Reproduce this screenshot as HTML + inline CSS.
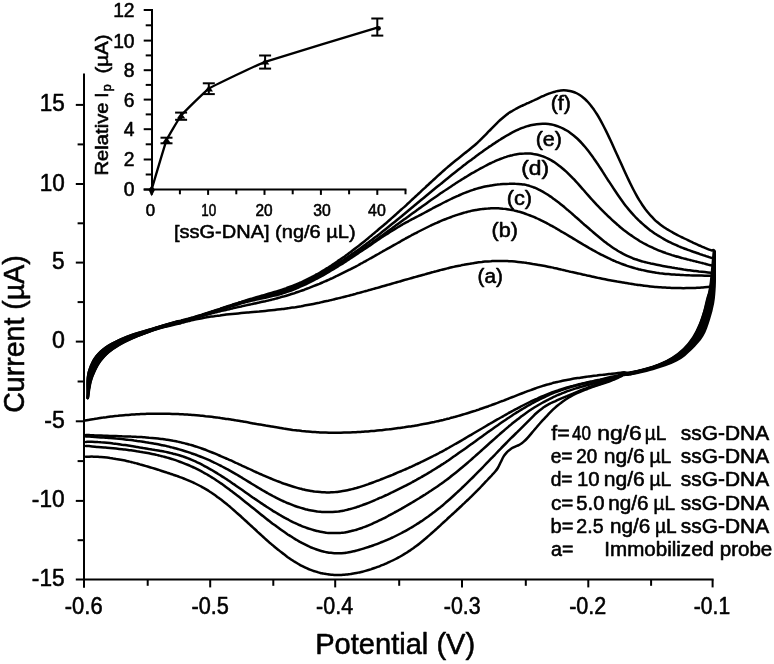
<!DOCTYPE html>
<html><head><meta charset="utf-8"><title>CV</title>
<style>html,body{margin:0;padding:0;background:#fff;}body{width:774px;height:664px;position:relative;overflow:hidden;font-family:"Liberation Sans",sans-serif;}</style>
</head><body>
<svg width="774" height="664" viewBox="0 0 774 664" style="position:absolute;left:0;top:0;will-change:transform;opacity:0.999" font-family="Liberation Sans, sans-serif" fill="#000">
<style>text{stroke:#000;stroke-width:0.55px;stroke-linejoin:round;}</style>
<rect width="774" height="664" fill="#fff"/>
<g fill="none" stroke="#000" stroke-width="2.50" stroke-linejoin="round" stroke-linecap="round">
<path d="M87.8,397.9 C87.8,394.6 87.1,383.2 87.7,377.9 C88.2,372.5 89.6,369.3 91.0,365.7 C92.5,362.1 93.9,359.3 96.4,356.2 C98.9,353.2 102.1,350.2 105.8,347.5 C109.5,344.9 114.3,342.4 118.7,340.3 C123.1,338.2 127.7,336.5 132.2,334.9 C136.7,333.3 141.3,332.2 145.8,330.8 C150.3,329.4 153.9,328.3 159.3,326.7 C164.7,325.1 174.4,322.3 178.0,321.3 C181.6,320.2 180.0,320.8 181.0,320.6 C182.0,320.3 183.0,320.1 184.0,319.8 C185.0,319.5 186.0,319.3 187.0,319.0 C188.0,318.7 189.1,318.5 190.1,318.2 C191.1,317.9 192.1,317.6 193.1,317.4 C194.1,317.1 195.1,316.8 196.1,316.5 C197.1,316.2 198.1,315.9 199.1,315.6 C200.1,315.3 201.1,315.0 202.1,314.7 C203.1,314.3 204.1,314.0 205.1,313.7 C206.1,313.4 207.1,313.1 208.1,312.8 C209.1,312.4 210.1,312.1 211.2,311.8 C212.2,311.5 213.2,311.1 214.2,310.8 C215.2,310.5 216.2,310.1 217.2,309.8 C218.2,309.5 219.2,309.2 220.2,308.8 C221.2,308.5 222.2,308.1 223.2,307.8 C224.2,307.5 225.2,307.1 226.2,306.8 C227.2,306.5 228.2,306.1 229.2,305.8 C230.2,305.5 231.2,305.1 232.3,304.8 C233.3,304.5 234.3,304.1 235.3,303.8 C236.3,303.5 237.3,303.2 238.3,302.8 C239.3,302.5 240.3,302.2 241.3,301.9 C242.3,301.5 243.3,301.2 244.3,300.9 C245.3,300.6 246.3,300.3 247.3,300.0 C248.3,299.7 249.3,299.3 250.3,299.0 C251.3,298.7 252.3,298.4 253.4,298.1 C254.4,297.8 255.4,297.6 256.4,297.3 C257.4,297.0 258.4,296.7 259.4,296.4 C260.4,296.1 261.4,295.8 262.4,295.5 C263.4,295.2 264.4,295.0 265.4,294.7 C266.4,294.4 267.4,294.1 268.4,293.8 C269.4,293.5 270.4,293.2 271.4,292.9 C272.4,292.6 273.4,292.3 274.4,292.0 C275.5,291.7 276.5,291.4 277.5,291.1 C278.5,290.8 279.5,290.4 280.5,290.1 C281.5,289.8 282.5,289.5 283.5,289.1 C284.5,288.8 285.5,288.4 286.5,288.1 C287.5,287.7 288.5,287.4 289.5,287.0 C290.5,286.6 291.5,286.3 292.5,285.9 C293.5,285.5 294.5,285.1 295.5,284.7 C296.6,284.3 297.6,283.8 298.6,283.4 C299.6,283.0 300.6,282.5 301.6,282.1 C302.6,281.6 303.6,281.2 304.6,280.7 C305.6,280.2 306.6,279.7 307.6,279.2 C308.6,278.7 309.6,278.2 310.6,277.7 C311.6,277.2 312.6,276.6 313.6,276.1 C314.6,275.5 315.6,275.0 316.6,274.4 C317.7,273.9 318.7,273.3 319.7,272.7 C320.7,272.1 321.7,271.5 322.7,270.9 C323.7,270.3 324.7,269.7 325.7,269.1 C326.7,268.5 327.7,267.8 328.7,267.2 C329.7,266.6 330.7,265.9 331.7,265.3 C332.7,264.6 333.7,263.9 334.7,263.3 C335.7,262.6 336.7,261.9 337.7,261.2 C338.7,260.5 339.8,259.8 340.8,259.1 C341.8,258.4 342.8,257.7 343.8,257.0 C344.8,256.3 345.8,255.5 346.8,254.8 C347.8,254.1 348.8,253.3 349.8,252.6 C350.8,251.8 351.8,251.1 352.8,250.3 C353.8,249.6 354.8,248.8 355.8,248.0 C356.8,247.2 357.8,246.4 358.8,245.7 C359.8,244.9 360.9,244.1 361.9,243.3 C362.9,242.5 363.9,241.7 364.9,240.9 C365.9,240.1 366.9,239.2 367.9,238.4 C368.9,237.6 369.9,236.8 370.9,235.9 C371.9,235.1 372.9,234.3 373.9,233.4 C374.9,232.6 375.9,231.8 376.9,230.9 C377.9,230.1 378.9,229.2 379.9,228.3 C380.9,227.5 382.0,226.6 383.0,225.8 C384.0,224.9 385.0,224.0 386.0,223.2 C387.0,222.3 388.0,221.4 389.0,220.5 C390.0,219.6 391.0,218.8 392.0,217.9 C393.0,217.0 394.0,216.1 395.0,215.2 C396.0,214.3 397.0,213.4 398.0,212.5 C399.0,211.6 400.0,210.7 401.0,209.8 C402.0,208.9 403.0,208.0 404.1,207.1 C405.1,206.2 406.1,205.3 407.1,204.3 C408.1,203.4 409.1,202.5 410.1,201.6 C411.1,200.7 412.1,199.7 413.1,198.8 C414.1,197.9 415.1,196.9 416.1,196.0 C417.1,195.1 418.1,194.1 419.1,193.2 C420.1,192.3 421.1,191.3 422.1,190.4 C423.1,189.5 424.1,188.5 425.2,187.6 C426.2,186.6 427.2,185.7 428.2,184.8 C429.2,183.8 430.2,182.9 431.2,182.0 C432.2,181.1 433.2,180.1 434.2,179.2 C435.2,178.3 436.2,177.4 437.2,176.4 C438.2,175.5 439.2,174.6 440.2,173.7 C441.2,172.8 442.2,171.9 443.2,171.0 C444.2,170.1 445.2,169.3 446.2,168.4 C447.3,167.5 448.3,166.6 449.3,165.8 C450.3,164.9 451.3,164.1 452.3,163.2 C453.3,162.4 454.3,161.6 455.3,160.8 C456.3,160.0 457.3,159.2 458.3,158.4 C459.3,157.6 460.3,156.8 461.3,156.0 C462.3,155.2 463.3,154.4 464.3,153.6 C465.3,152.9 466.3,152.1 467.3,151.3 C468.4,150.5 469.4,149.7 470.4,148.8 C471.4,148.0 472.4,147.2 473.4,146.3 C474.4,145.5 475.4,144.6 476.4,143.7 C477.4,142.8 478.4,141.8 479.4,140.9 C480.4,139.9 481.4,138.9 482.4,137.9 C483.4,136.9 484.4,135.9 485.4,134.9 C486.4,133.8 487.4,132.8 488.4,131.7 C489.5,130.7 490.5,129.7 491.5,128.6 C492.5,127.6 493.5,126.6 494.5,125.6 C495.5,124.6 496.5,123.6 497.5,122.6 C498.5,121.7 499.5,120.7 500.5,119.8 C501.5,118.9 502.5,118.1 503.5,117.2 C504.5,116.4 505.5,115.6 506.5,114.8 C507.5,114.0 508.5,113.3 509.5,112.6 C510.5,112.0 511.6,111.3 512.6,110.7 C513.6,110.1 514.6,109.5 515.6,109.0 C516.6,108.4 517.6,107.9 518.6,107.4 C519.6,106.9 520.6,106.4 521.6,105.9 C522.6,105.5 523.6,105.0 524.6,104.6 C525.6,104.1 526.6,103.7 527.6,103.2 C528.6,102.8 529.6,102.3 530.6,101.9 C531.6,101.4 532.7,101.0 533.7,100.5 C534.7,100.0 535.7,99.5 536.7,99.1 C537.7,98.6 538.7,98.1 539.7,97.6 C540.7,97.2 541.7,96.7 542.7,96.2 C543.7,95.8 544.7,95.3 545.7,94.9 C546.7,94.5 547.7,94.1 548.7,93.7 C549.7,93.3 550.7,92.9 551.7,92.6 C552.7,92.3 553.8,91.9 554.8,91.7 C555.8,91.4 556.8,91.2 557.8,91.0 C558.8,90.8 559.8,90.6 560.8,90.5 C561.8,90.4 562.8,90.3 563.8,90.3 C564.8,90.3 565.8,90.3 566.8,90.4 C567.8,90.5 568.8,90.7 569.8,90.9 C570.8,91.1 571.8,91.4 572.8,91.7 C573.8,92.0 574.8,92.4 575.9,92.9 C576.9,93.3 577.9,93.9 578.9,94.5 C579.9,95.1 580.9,95.8 581.9,96.5 C582.9,97.3 583.9,98.1 584.9,99.0 C585.9,99.9 586.9,100.9 587.9,102.0 C588.9,103.1 589.9,104.3 590.9,105.6 C591.9,106.8 592.9,108.2 593.9,109.6 C594.9,111.1 595.9,112.6 597.0,114.3 C598.0,115.9 599.0,117.6 600.0,119.4 C601.0,121.2 602.0,123.1 603.0,125.0 C604.0,126.9 605.0,128.9 606.0,130.9 C607.0,132.9 608.0,135.0 609.0,137.1 C610.0,139.3 611.0,141.4 612.0,143.6 C613.0,145.8 614.0,148.0 615.0,150.2 C616.0,152.4 617.0,154.6 618.1,156.9 C619.1,159.1 620.1,161.3 621.1,163.6 C622.1,165.8 623.1,168.0 624.1,170.2 C625.1,172.4 626.1,174.5 627.1,176.7 C628.1,178.8 629.1,180.9 630.1,183.0 C631.1,185.0 632.1,187.0 633.1,189.0 C634.1,190.9 635.1,192.8 636.1,194.6 C637.1,196.5 638.1,198.2 639.1,199.9 C640.2,201.6 641.2,203.2 642.2,204.7 C643.2,206.2 644.2,207.6 645.2,209.0 C646.2,210.3 647.2,211.6 648.2,212.8 C649.2,214.0 650.2,215.2 651.2,216.2 C652.2,217.3 653.2,218.3 654.2,219.3 C655.2,220.3 656.2,221.2 657.2,222.0 C658.2,222.9 659.2,223.7 660.2,224.5 C661.3,225.3 662.3,226.0 663.3,226.7 C664.3,227.4 665.3,228.0 666.3,228.7 C667.3,229.3 668.3,229.9 669.3,230.5 C670.3,231.1 671.3,231.7 672.3,232.2 C673.3,232.8 674.3,233.3 675.3,233.9 C676.3,234.4 677.3,234.9 678.3,235.5 C679.3,236.0 680.3,236.5 681.3,237.0 C682.4,237.5 683.4,238.0 684.4,238.5 C685.4,239.0 686.4,239.5 687.4,239.9 C688.4,240.4 689.4,240.9 690.4,241.4 C691.4,241.8 692.4,242.3 693.4,242.8 C694.4,243.2 695.4,243.7 696.4,244.2 C697.4,244.6 698.4,245.1 699.4,245.5 C700.4,245.9 701.4,246.4 702.4,246.8 C703.4,247.2 704.5,247.7 705.5,248.1 C706.5,248.5 707.5,248.9 708.5,249.3 C709.5,249.7 710.5,250.0 711.5,250.4 C712.5,250.8 714.1,248.8 714.5,251.5 C714.9,254.2 714.1,261.6 714.0,266.7 C713.9,271.8 714.2,277.0 714.1,282.2 C713.9,287.3 713.7,292.5 713.0,297.7 C712.3,302.8 711.3,307.9 709.9,312.8 C708.6,317.8 707.1,322.9 705.0,327.5 C702.9,332.2 700.4,336.7 697.3,340.7 C694.2,344.8 690.4,348.4 686.5,351.7 C682.6,355.0 678.6,358.3 674.1,360.7 C669.6,363.1 664.4,364.3 659.5,365.9 C654.6,367.5 649.8,368.9 644.9,370.3 C640.0,371.7 633.5,373.4 630.0,374.2 C626.5,375.0 625.5,374.6 624.0,374.9 C622.5,375.3 622.0,376.0 621.0,376.4 C620.0,376.9 619.0,377.4 618.0,377.8 C617.0,378.3 616.0,378.7 615.0,379.1 C614.0,379.6 613.0,379.9 612.0,380.3 C611.0,380.7 610.0,381.1 609.0,381.5 C608.0,381.8 607.0,382.2 606.0,382.5 C605.0,382.9 604.0,383.2 603.0,383.6 C602.0,383.9 601.0,384.2 600.0,384.6 C599.0,384.9 598.0,385.2 596.9,385.6 C595.9,385.9 594.9,386.2 593.9,386.6 C592.9,386.9 591.9,387.2 590.9,387.6 C589.9,387.9 588.9,388.3 587.9,388.7 C586.9,389.0 585.9,389.4 584.9,389.8 C583.9,390.2 582.9,390.6 581.9,391.0 C580.9,391.4 579.9,391.8 578.9,392.3 C577.9,392.7 576.9,393.2 575.9,393.7 C574.9,394.2 573.9,394.7 572.9,395.2 C571.9,395.7 570.9,396.3 569.9,396.9 C568.9,397.4 567.9,398.0 566.9,398.7 C565.9,399.3 564.9,400.0 563.9,400.7 C562.9,401.4 561.9,402.1 560.9,402.9 C559.9,403.6 558.9,404.4 557.9,405.3 C556.9,406.1 555.9,407.0 554.9,407.9 C553.9,408.8 552.9,409.7 551.9,410.7 C550.9,411.7 549.9,412.7 548.9,413.7 C547.9,414.8 546.9,415.8 545.9,416.9 C544.9,418.0 543.9,419.1 542.8,420.2 C541.8,421.3 540.8,422.4 539.8,423.5 C538.8,424.7 537.8,425.8 536.8,427.0 C535.8,428.1 534.8,429.3 533.8,430.5 C532.8,431.6 531.8,432.9 530.8,434.1 C529.8,435.3 528.8,436.5 527.8,437.6 C526.8,438.7 525.8,439.8 524.8,440.7 C523.8,441.7 522.8,442.6 521.8,443.3 C520.8,444.0 519.8,444.6 518.8,445.1 C517.8,445.6 516.8,445.9 515.8,446.3 C514.8,446.8 513.8,447.1 512.8,447.7 C511.8,448.2 510.8,448.9 509.8,449.7 C508.8,450.4 507.8,451.3 506.8,452.4 C505.8,453.5 504.8,454.6 503.8,456.2 C502.8,457.8 501.8,460.0 500.8,462.0 C499.8,463.9 498.8,466.4 497.8,468.0 C496.8,469.7 495.8,470.8 494.8,472.0 C493.8,473.2 492.8,474.2 491.8,475.3 C490.8,476.3 489.8,477.4 488.7,478.5 C487.7,479.6 486.7,480.7 485.7,481.7 C484.7,482.8 483.7,483.9 482.7,484.9 C481.7,486.0 480.7,487.0 479.7,488.1 C478.7,489.1 477.7,490.1 476.7,491.1 C475.7,492.2 474.7,493.2 473.7,494.1 C472.7,495.1 471.7,496.1 470.7,497.1 C469.7,498.1 468.7,499.0 467.7,500.0 C466.7,501.0 465.7,501.9 464.7,502.9 C463.7,503.8 462.7,504.7 461.7,505.7 C460.7,506.6 459.7,507.5 458.7,508.5 C457.7,509.4 456.7,510.3 455.7,511.3 C454.7,512.2 453.7,513.1 452.7,514.0 C451.7,514.9 450.7,515.9 449.7,516.8 C448.7,517.7 447.7,518.6 446.7,519.6 C445.7,520.5 444.7,521.4 443.7,522.3 C442.7,523.2 441.7,524.2 440.7,525.1 C439.7,526.0 438.7,526.9 437.7,527.8 C436.7,528.8 435.6,529.7 434.6,530.6 C433.6,531.5 432.6,532.4 431.6,533.3 C430.6,534.2 429.6,535.0 428.6,535.9 C427.6,536.8 426.6,537.6 425.6,538.5 C424.6,539.3 423.6,540.2 422.6,541.0 C421.6,541.8 420.6,542.6 419.6,543.4 C418.6,544.2 417.6,545.0 416.6,545.7 C415.6,546.5 414.6,547.2 413.6,548.0 C412.6,548.7 411.6,549.4 410.6,550.1 C409.6,550.7 408.6,551.4 407.6,552.1 C406.6,552.7 405.6,553.3 404.6,553.9 C403.6,554.5 402.6,555.1 401.6,555.7 C400.6,556.3 399.6,556.9 398.6,557.4 C397.6,558.0 396.6,558.5 395.6,559.0 C394.6,559.5 393.6,560.0 392.6,560.5 C391.6,561.0 390.6,561.5 389.6,561.9 C388.6,562.4 387.6,562.9 386.6,563.3 C385.6,563.7 384.6,564.2 383.6,564.6 C382.6,565.0 381.5,565.4 380.5,565.8 C379.5,566.2 378.5,566.6 377.5,566.9 C376.5,567.3 375.5,567.7 374.5,568.0 C373.5,568.4 372.5,568.7 371.5,569.1 C370.5,569.4 369.5,569.7 368.5,570.0 C367.5,570.3 366.5,570.6 365.5,570.9 C364.5,571.2 363.5,571.5 362.5,571.7 C361.5,572.0 360.5,572.2 359.5,572.4 C358.5,572.7 357.5,572.9 356.5,573.1 C355.5,573.3 354.5,573.5 353.5,573.6 C352.5,573.8 351.5,573.9 350.5,574.1 C349.5,574.2 348.5,574.3 347.5,574.5 C346.5,574.6 345.5,574.6 344.5,574.7 C343.5,574.8 342.5,574.8 341.5,574.9 C340.5,574.9 339.5,574.9 338.5,574.9 C337.5,574.9 336.5,574.9 335.5,574.9 C334.5,574.9 333.5,574.8 332.5,574.7 C331.5,574.7 330.5,574.6 329.5,574.5 C328.5,574.4 327.4,574.2 326.4,574.1 C325.4,573.9 324.4,573.7 323.4,573.6 C322.4,573.4 321.4,573.1 320.4,572.9 C319.4,572.7 318.4,572.4 317.4,572.1 C316.4,571.9 315.4,571.6 314.4,571.2 C313.4,570.9 312.4,570.6 311.4,570.2 C310.4,569.8 309.4,569.4 308.4,569.0 C307.4,568.6 306.4,568.2 305.4,567.7 C304.4,567.2 303.4,566.7 302.4,566.2 C301.4,565.7 300.4,565.2 299.4,564.6 C298.4,564.0 297.4,563.5 296.4,562.8 C295.4,562.2 294.4,561.6 293.4,561.0 C292.4,560.3 291.4,559.7 290.4,559.0 C289.4,558.3 288.4,557.6 287.4,556.9 C286.4,556.1 285.4,555.4 284.4,554.6 C283.4,553.9 282.4,553.1 281.4,552.3 C280.4,551.6 279.4,550.8 278.4,549.9 C277.4,549.1 276.4,548.3 275.4,547.5 C274.4,546.6 273.3,545.8 272.3,544.9 C271.3,544.1 270.3,543.2 269.3,542.4 C268.3,541.5 267.3,540.6 266.3,539.7 C265.3,538.8 264.3,537.9 263.3,537.0 C262.3,536.1 261.3,535.2 260.3,534.3 C259.3,533.4 258.3,532.5 257.3,531.6 C256.3,530.6 255.3,529.7 254.3,528.8 C253.3,527.9 252.3,526.9 251.3,526.0 C250.3,525.1 249.3,524.2 248.3,523.3 C247.3,522.3 246.3,521.4 245.3,520.5 C244.3,519.6 243.3,518.7 242.3,517.8 C241.3,516.8 240.3,515.9 239.3,515.0 C238.3,514.1 237.3,513.2 236.3,512.4 C235.3,511.5 234.3,510.6 233.3,509.7 C232.3,508.9 231.3,508.0 230.3,507.1 C229.3,506.3 228.3,505.5 227.3,504.6 C226.3,503.8 225.3,503.0 224.3,502.2 C223.3,501.4 222.3,500.6 221.3,499.8 C220.2,499.0 219.2,498.3 218.2,497.5 C217.2,496.8 216.2,496.0 215.2,495.3 C214.2,494.6 213.2,493.9 212.2,493.2 C211.2,492.6 210.2,491.9 209.2,491.3 C208.2,490.6 207.2,490.0 206.2,489.4 C205.2,488.8 204.2,488.2 203.2,487.7 C202.2,487.1 201.2,486.6 200.2,486.0 C199.2,485.5 198.2,485.0 197.2,484.5 C196.2,484.0 195.2,483.5 194.2,483.0 C193.2,482.6 192.2,482.1 191.2,481.6 C190.2,481.2 189.2,480.8 188.2,480.3 C187.2,479.9 186.2,479.5 185.2,479.1 C184.2,478.7 183.2,478.3 182.2,477.9 C181.2,477.5 180.2,477.2 179.2,476.8 C178.2,476.4 177.2,476.1 176.2,475.7 C175.2,475.4 174.2,475.0 173.2,474.7 C172.2,474.3 171.2,474.0 170.2,473.7 C169.2,473.3 168.2,473.0 167.2,472.7 C166.1,472.3 165.1,472.0 164.1,471.7 C163.1,471.4 162.1,471.0 161.1,470.7 C160.1,470.4 159.1,470.1 158.1,469.7 C157.1,469.4 156.1,469.1 155.1,468.8 C154.1,468.5 153.1,468.2 152.1,467.9 C151.1,467.6 150.1,467.3 149.1,467.0 C148.1,466.7 147.1,466.4 146.1,466.1 C145.1,465.8 144.1,465.5 143.1,465.2 C142.1,464.9 141.1,464.6 140.1,464.4 C139.1,464.1 138.1,463.8 137.1,463.5 C136.1,463.3 135.1,463.0 134.1,462.8 C133.1,462.5 132.1,462.3 131.1,462.0 C130.1,461.8 129.1,461.5 128.1,461.3 C127.1,461.1 126.1,460.8 125.1,460.6 C124.1,460.4 123.1,460.2 122.1,460.0 C121.1,459.8 120.1,459.6 119.1,459.4 C118.1,459.2 117.1,459.0 116.1,458.9 C115.1,458.7 114.1,458.5 113.1,458.4 C112.0,458.2 111.0,458.1 110.0,458.0 C109.0,457.8 108.0,457.7 107.0,457.6 C106.0,457.5 105.0,457.4 104.0,457.3 C103.0,457.2 102.0,457.1 101.0,457.0 C100.0,456.9 99.0,456.9 98.0,456.8 C97.0,456.8 96.0,456.7 95.0,456.7 C94.0,456.7 93.0,456.6 92.0,456.6 C91.0,456.6 90.0,456.6 89.0,456.7 C88.0,456.7 86.5,456.7 86.0,456.8"/>
<path d="M87.8,397.9 C87.9,394.7 87.6,383.8 88.3,378.6 C88.9,373.4 90.3,370.2 91.8,366.7 C93.2,363.1 94.7,360.2 97.2,357.2 C99.6,354.1 102.7,351.1 106.3,348.4 C109.9,345.8 114.4,343.4 118.7,341.3 C123.0,339.1 127.7,337.3 132.2,335.6 C136.7,333.9 141.3,332.7 145.8,331.2 C150.3,329.8 153.9,328.6 159.3,327.0 C164.7,325.4 174.4,322.6 178.0,321.6 C181.6,320.6 180.0,321.1 181.0,320.9 C182.0,320.6 183.0,320.4 184.0,320.1 C185.0,319.8 186.0,319.6 187.0,319.3 C188.0,319.0 189.0,318.8 190.1,318.5 C191.1,318.2 192.1,317.9 193.1,317.6 C194.1,317.3 195.1,317.0 196.1,316.7 C197.1,316.4 198.1,316.1 199.1,315.8 C200.1,315.5 201.1,315.2 202.1,314.9 C203.1,314.6 204.1,314.3 205.1,314.0 C206.1,313.7 207.1,313.3 208.1,313.0 C209.1,312.7 210.1,312.4 211.1,312.0 C212.1,311.7 213.2,311.4 214.2,311.1 C215.2,310.7 216.2,310.4 217.2,310.1 C218.2,309.8 219.2,309.4 220.2,309.1 C221.2,308.8 222.2,308.4 223.2,308.1 C224.2,307.8 225.2,307.4 226.2,307.1 C227.2,306.8 228.2,306.5 229.2,306.1 C230.2,305.8 231.2,305.5 232.2,305.2 C233.2,304.8 234.2,304.5 235.2,304.2 C236.2,303.9 237.3,303.6 238.3,303.3 C239.3,303.0 240.3,302.6 241.3,302.3 C242.3,302.0 243.3,301.7 244.3,301.4 C245.3,301.1 246.3,300.8 247.3,300.5 C248.3,300.2 249.3,300.0 250.3,299.7 C251.3,299.4 252.3,299.1 253.3,298.8 C254.3,298.6 255.3,298.3 256.3,298.0 C257.3,297.8 258.3,297.5 259.3,297.2 C260.4,297.0 261.4,296.7 262.4,296.4 C263.4,296.2 264.4,295.9 265.4,295.6 C266.4,295.3 267.4,295.1 268.4,294.8 C269.4,294.5 270.4,294.2 271.4,294.0 C272.4,293.7 273.4,293.4 274.4,293.1 C275.4,292.8 276.4,292.5 277.4,292.2 C278.4,291.9 279.4,291.6 280.4,291.2 C281.4,290.9 282.4,290.6 283.5,290.2 C284.5,289.9 285.5,289.5 286.5,289.2 C287.5,288.8 288.5,288.4 289.5,288.0 C290.5,287.7 291.5,287.3 292.5,286.9 C293.5,286.5 294.5,286.1 295.5,285.6 C296.5,285.2 297.5,284.8 298.5,284.4 C299.5,283.9 300.5,283.5 301.5,283.0 C302.5,282.6 303.5,282.1 304.5,281.7 C305.5,281.2 306.6,280.7 307.6,280.2 C308.6,279.8 309.6,279.3 310.6,278.8 C311.6,278.3 312.6,277.8 313.6,277.3 C314.6,276.7 315.6,276.2 316.6,275.7 C317.6,275.2 318.6,274.6 319.6,274.1 C320.6,273.5 321.6,273.0 322.6,272.4 C323.6,271.9 324.6,271.3 325.6,270.7 C326.6,270.1 327.6,269.6 328.6,269.0 C329.7,268.4 330.7,267.8 331.7,267.2 C332.7,266.6 333.7,266.0 334.7,265.4 C335.7,264.8 336.7,264.1 337.7,263.5 C338.7,262.9 339.7,262.2 340.7,261.6 C341.7,261.0 342.7,260.3 343.7,259.7 C344.7,259.0 345.7,258.3 346.7,257.7 C347.7,257.0 348.7,256.3 349.7,255.7 C350.7,255.0 351.7,254.3 352.7,253.6 C353.8,252.9 354.8,252.2 355.8,251.5 C356.8,250.8 357.8,250.1 358.8,249.4 C359.8,248.7 360.8,248.0 361.8,247.2 C362.8,246.5 363.8,245.8 364.8,245.1 C365.8,244.3 366.8,243.6 367.8,242.8 C368.8,242.1 369.8,241.3 370.8,240.6 C371.8,239.8 372.8,239.1 373.8,238.3 C374.8,237.5 375.8,236.8 376.9,236.0 C377.9,235.2 378.9,234.4 379.9,233.7 C380.9,232.9 381.9,232.1 382.9,231.3 C383.9,230.5 384.9,229.7 385.9,228.9 C386.9,228.1 387.9,227.3 388.9,226.5 C389.9,225.7 390.9,224.9 391.9,224.1 C392.9,223.3 393.9,222.5 394.9,221.7 C395.9,220.9 396.9,220.1 397.9,219.2 C398.9,218.4 400.0,217.6 401.0,216.8 C402.0,216.0 403.0,215.1 404.0,214.3 C405.0,213.5 406.0,212.6 407.0,211.8 C408.0,211.0 409.0,210.2 410.0,209.3 C411.0,208.5 412.0,207.7 413.0,206.8 C414.0,206.0 415.0,205.2 416.0,204.3 C417.0,203.5 418.0,202.7 419.0,201.8 C420.0,201.0 421.0,200.2 422.0,199.3 C423.1,198.5 424.1,197.7 425.1,196.8 C426.1,196.0 427.1,195.2 428.1,194.3 C429.1,193.5 430.1,192.7 431.1,191.8 C432.1,191.0 433.1,190.2 434.1,189.3 C435.1,188.5 436.1,187.7 437.1,186.8 C438.1,186.0 439.1,185.2 440.1,184.4 C441.1,183.5 442.1,182.7 443.1,181.9 C444.1,181.1 445.1,180.3 446.1,179.5 C447.2,178.6 448.2,177.8 449.2,177.0 C450.2,176.2 451.2,175.4 452.2,174.6 C453.2,173.8 454.2,173.0 455.2,172.2 C456.2,171.4 457.2,170.6 458.2,169.8 C459.2,169.0 460.2,168.2 461.2,167.5 C462.2,166.7 463.2,165.9 464.2,165.1 C465.2,164.3 466.2,163.6 467.2,162.8 C468.2,162.0 469.2,161.3 470.3,160.5 C471.3,159.8 472.3,159.0 473.3,158.3 C474.3,157.5 475.3,156.8 476.3,156.0 C477.3,155.3 478.3,154.6 479.3,153.8 C480.3,153.1 481.3,152.4 482.3,151.7 C483.3,150.9 484.3,150.2 485.3,149.5 C486.3,148.8 487.3,148.1 488.3,147.4 C489.3,146.7 490.3,146.1 491.3,145.4 C492.3,144.7 493.4,144.0 494.4,143.4 C495.4,142.7 496.4,142.0 497.4,141.4 C498.4,140.7 499.4,140.1 500.4,139.5 C501.4,138.8 502.4,138.2 503.4,137.6 C504.4,137.0 505.4,136.4 506.4,135.8 C507.4,135.2 508.4,134.6 509.4,134.1 C510.4,133.5 511.4,132.9 512.4,132.4 C513.4,131.9 514.4,131.4 515.4,130.9 C516.5,130.4 517.5,129.9 518.5,129.5 C519.5,129.0 520.5,128.6 521.5,128.2 C522.5,127.8 523.5,127.4 524.5,127.1 C525.5,126.7 526.5,126.4 527.5,126.1 C528.5,125.8 529.5,125.6 530.5,125.3 C531.5,125.1 532.5,124.9 533.5,124.7 C534.5,124.5 535.5,124.3 536.5,124.2 C537.5,124.1 538.5,124.0 539.6,123.9 C540.6,123.8 541.6,123.8 542.6,123.8 C543.6,123.8 544.6,123.8 545.6,123.8 C546.6,123.9 547.6,124.0 548.6,124.1 C549.6,124.2 550.6,124.4 551.6,124.6 C552.6,124.8 553.6,125.0 554.6,125.3 C555.6,125.6 556.6,125.9 557.6,126.2 C558.6,126.6 559.6,126.9 560.6,127.4 C561.6,127.8 562.6,128.3 563.7,128.8 C564.7,129.3 565.7,129.9 566.7,130.5 C567.7,131.1 568.7,131.7 569.7,132.4 C570.7,133.1 571.7,133.9 572.7,134.7 C573.7,135.4 574.7,136.3 575.7,137.2 C576.7,138.1 577.7,139.0 578.7,140.0 C579.7,141.0 580.7,142.0 581.7,143.1 C582.7,144.2 583.7,145.3 584.7,146.5 C585.7,147.7 586.8,148.9 587.8,150.2 C588.8,151.5 589.8,152.8 590.8,154.2 C591.8,155.5 592.8,156.9 593.8,158.4 C594.8,159.8 595.8,161.3 596.8,162.8 C597.8,164.2 598.8,165.7 599.8,167.3 C600.8,168.8 601.8,170.3 602.8,171.9 C603.8,173.4 604.8,175.0 605.8,176.6 C606.8,178.1 607.8,179.7 608.8,181.3 C609.9,182.8 610.9,184.4 611.9,185.9 C612.9,187.5 613.9,189.0 614.9,190.5 C615.9,192.0 616.9,193.5 617.9,195.0 C618.9,196.5 619.9,197.9 620.9,199.3 C621.9,200.7 622.9,202.1 623.9,203.4 C624.9,204.8 625.9,206.1 626.9,207.3 C627.9,208.6 628.9,209.8 629.9,210.9 C630.9,212.1 631.9,213.3 633.0,214.4 C634.0,215.5 635.0,216.5 636.0,217.6 C637.0,218.6 638.0,219.6 639.0,220.6 C640.0,221.5 641.0,222.5 642.0,223.4 C643.0,224.3 644.0,225.2 645.0,226.0 C646.0,226.9 647.0,227.7 648.0,228.5 C649.0,229.3 650.0,230.0 651.0,230.8 C652.0,231.5 653.0,232.2 654.0,232.9 C655.0,233.6 656.1,234.3 657.1,235.0 C658.1,235.6 659.1,236.2 660.1,236.8 C661.1,237.5 662.1,238.0 663.1,238.6 C664.1,239.2 665.1,239.8 666.1,240.3 C667.1,240.8 668.1,241.4 669.1,241.9 C670.1,242.4 671.1,242.9 672.1,243.3 C673.1,243.8 674.1,244.3 675.1,244.7 C676.1,245.2 677.1,245.6 678.1,246.0 C679.1,246.5 680.2,246.9 681.2,247.3 C682.2,247.7 683.2,248.1 684.2,248.5 C685.2,248.9 686.2,249.2 687.2,249.6 C688.2,250.0 689.2,250.3 690.2,250.7 C691.2,251.1 692.2,251.4 693.2,251.8 C694.2,252.1 695.2,252.5 696.2,252.8 C697.2,253.1 698.2,253.5 699.2,253.8 C700.2,254.2 701.2,254.5 702.2,254.8 C703.3,255.2 704.3,255.5 705.3,255.8 C706.3,256.2 707.3,256.5 708.3,256.8 C709.3,257.2 710.3,257.5 711.3,257.9 C712.3,258.2 713.9,257.5 714.3,258.9 C714.7,260.4 713.8,262.8 713.7,266.6 C713.5,270.4 713.7,276.8 713.5,282.0 C713.2,287.1 712.8,292.2 712.0,297.3 C711.3,302.3 710.2,307.4 708.9,312.3 C707.5,317.2 706.1,322.2 704.0,326.9 C701.9,331.5 699.5,336.0 696.5,340.1 C693.5,344.1 689.8,347.8 686.0,351.1 C682.2,354.5 678.1,357.7 673.7,360.2 C669.3,362.6 664.2,364.0 659.4,365.6 C654.6,367.3 649.7,368.7 644.8,370.1 C639.9,371.5 633.5,373.1 630.0,373.9 C626.5,374.6 625.5,374.3 624.0,374.6 C622.5,374.9 622.0,375.3 621.0,375.6 C620.0,375.9 619.0,376.3 618.0,376.6 C617.0,377.0 616.0,377.3 615.0,377.7 C614.0,378.0 613.0,378.4 612.0,378.7 C611.0,379.1 610.0,379.4 609.0,379.8 C608.0,380.2 607.0,380.5 606.0,380.9 C605.0,381.2 604.0,381.6 603.0,382.0 C602.0,382.3 601.0,382.7 600.0,383.1 C599.0,383.4 598.0,383.8 596.9,384.2 C595.9,384.5 594.9,384.9 593.9,385.3 C592.9,385.7 591.9,386.1 590.9,386.4 C589.9,386.8 588.9,387.2 587.9,387.6 C586.9,388.0 585.9,388.4 584.9,388.8 C583.9,389.1 582.9,389.5 581.9,389.9 C580.9,390.3 579.9,390.7 578.9,391.1 C577.9,391.5 576.9,391.9 575.9,392.3 C574.9,392.7 573.9,393.1 572.9,393.6 C571.9,394.0 570.9,394.4 569.9,394.8 C568.9,395.2 567.9,395.6 566.9,396.1 C565.9,396.5 564.9,396.9 563.9,397.3 C562.9,397.8 561.9,398.2 560.9,398.6 C559.9,399.1 558.9,399.5 557.9,399.9 C556.9,400.4 555.9,400.8 554.9,401.3 C553.9,401.7 552.9,402.2 551.9,402.7 C550.9,403.1 549.9,403.7 548.9,404.2 C547.9,404.7 546.9,405.3 545.9,405.9 C544.9,406.5 543.9,407.2 542.8,407.9 C541.8,408.6 540.8,409.4 539.8,410.2 C538.8,411.0 537.8,411.9 536.8,412.8 C535.8,413.7 534.8,414.6 533.8,415.6 C532.8,416.6 531.8,417.6 530.8,418.6 C529.8,419.6 528.8,420.6 527.8,421.6 C526.8,422.6 525.8,423.6 524.8,424.6 C523.8,425.6 522.8,426.6 521.8,427.6 C520.8,428.6 519.8,429.6 518.8,430.6 C517.8,431.6 516.8,432.5 515.8,433.5 C514.8,434.5 513.8,435.5 512.8,436.5 C511.8,437.5 510.8,438.4 509.8,439.4 C508.8,440.4 507.8,441.4 506.8,442.5 C505.8,443.5 504.8,444.5 503.8,445.5 C502.8,446.5 501.8,447.5 500.8,448.6 C499.8,449.6 498.8,450.6 497.8,451.7 C496.8,452.7 495.8,453.8 494.8,454.8 C493.8,455.8 492.8,456.9 491.8,457.9 C490.8,459.0 489.8,460.0 488.7,461.1 C487.7,462.1 486.7,463.1 485.7,464.2 C484.7,465.2 483.7,466.3 482.7,467.3 C481.7,468.3 480.7,469.4 479.7,470.4 C478.7,471.4 477.7,472.4 476.7,473.4 C475.7,474.4 474.7,475.5 473.7,476.5 C472.7,477.5 471.7,478.5 470.7,479.4 C469.7,480.4 468.7,481.4 467.7,482.4 C466.7,483.4 465.7,484.4 464.7,485.3 C463.7,486.3 462.7,487.2 461.7,488.2 C460.7,489.1 459.7,490.1 458.7,491.0 C457.7,491.9 456.7,492.9 455.7,493.8 C454.7,494.7 453.7,495.6 452.7,496.5 C451.7,497.4 450.7,498.3 449.7,499.2 C448.7,500.1 447.7,500.9 446.7,501.8 C445.7,502.7 444.7,503.5 443.7,504.4 C442.7,505.2 441.7,506.0 440.7,506.9 C439.7,507.7 438.7,508.5 437.7,509.3 C436.7,510.1 435.6,510.9 434.6,511.7 C433.6,512.4 432.6,513.2 431.6,513.9 C430.6,514.7 429.6,515.4 428.6,516.2 C427.6,516.9 426.6,517.6 425.6,518.3 C424.6,519.0 423.6,519.7 422.6,520.4 C421.6,521.1 420.6,521.7 419.6,522.4 C418.6,523.0 417.6,523.7 416.6,524.3 C415.6,524.9 414.6,525.6 413.6,526.2 C412.6,526.8 411.6,527.4 410.6,528.0 C409.6,528.6 408.6,529.1 407.6,529.7 C406.6,530.3 405.6,530.8 404.6,531.4 C403.6,531.9 402.6,532.5 401.6,533.0 C400.6,533.5 399.6,534.0 398.6,534.5 C397.6,535.0 396.6,535.5 395.6,536.0 C394.6,536.5 393.6,537.0 392.6,537.5 C391.6,537.9 390.6,538.4 389.6,538.8 C388.6,539.3 387.6,539.7 386.6,540.1 C385.6,540.6 384.6,541.0 383.6,541.4 C382.6,541.8 381.5,542.2 380.5,542.6 C379.5,543.0 378.5,543.4 377.5,543.8 C376.5,544.2 375.5,544.5 374.5,544.9 C373.5,545.3 372.5,545.6 371.5,546.0 C370.5,546.3 369.5,546.6 368.5,547.0 C367.5,547.3 366.5,547.6 365.5,547.9 C364.5,548.3 363.5,548.6 362.5,548.9 C361.5,549.2 360.5,549.5 359.5,549.7 C358.5,550.0 357.5,550.3 356.5,550.6 C355.5,550.8 354.5,551.1 353.5,551.3 C352.5,551.5 351.5,551.7 350.5,551.9 C349.5,552.1 348.5,552.3 347.5,552.5 C346.5,552.6 345.5,552.8 344.5,552.9 C343.5,553.0 342.5,553.1 341.5,553.2 C340.5,553.2 339.5,553.3 338.5,553.3 C337.5,553.3 336.5,553.3 335.5,553.2 C334.5,553.2 333.5,553.1 332.5,553.0 C331.5,552.9 330.5,552.8 329.5,552.7 C328.5,552.5 327.4,552.4 326.4,552.2 C325.4,552.0 324.4,551.7 323.4,551.5 C322.4,551.3 321.4,551.0 320.4,550.7 C319.4,550.4 318.4,550.1 317.4,549.8 C316.4,549.4 315.4,549.1 314.4,548.7 C313.4,548.3 312.4,547.9 311.4,547.5 C310.4,547.1 309.4,546.6 308.4,546.2 C307.4,545.7 306.4,545.2 305.4,544.7 C304.4,544.2 303.4,543.7 302.4,543.2 C301.4,542.7 300.4,542.1 299.4,541.6 C298.4,541.0 297.4,540.4 296.4,539.8 C295.4,539.3 294.4,538.6 293.4,538.0 C292.4,537.4 291.4,536.8 290.4,536.1 C289.4,535.5 288.4,534.8 287.4,534.2 C286.4,533.5 285.4,532.8 284.4,532.1 C283.4,531.4 282.4,530.7 281.4,530.0 C280.4,529.3 279.4,528.6 278.4,527.8 C277.4,527.1 276.4,526.4 275.4,525.6 C274.4,524.9 273.3,524.1 272.3,523.4 C271.3,522.6 270.3,521.8 269.3,521.0 C268.3,520.3 267.3,519.5 266.3,518.7 C265.3,517.9 264.3,517.1 263.3,516.3 C262.3,515.6 261.3,514.8 260.3,514.0 C259.3,513.2 258.3,512.4 257.3,511.5 C256.3,510.7 255.3,509.9 254.3,509.1 C253.3,508.3 252.3,507.5 251.3,506.7 C250.3,505.9 249.3,505.1 248.3,504.3 C247.3,503.5 246.3,502.7 245.3,501.9 C244.3,501.1 243.3,500.3 242.3,499.5 C241.3,498.7 240.3,497.9 239.3,497.1 C238.3,496.3 237.3,495.5 236.3,494.8 C235.3,494.0 234.3,493.2 233.3,492.4 C232.3,491.7 231.3,490.9 230.3,490.2 C229.3,489.4 228.3,488.7 227.3,487.9 C226.3,487.2 225.3,486.5 224.3,485.7 C223.3,485.0 222.3,484.3 221.3,483.6 C220.2,482.9 219.2,482.2 218.2,481.5 C217.2,480.9 216.2,480.2 215.2,479.5 C214.2,478.9 213.2,478.2 212.2,477.6 C211.2,477.0 210.2,476.4 209.2,475.7 C208.2,475.1 207.2,474.6 206.2,474.0 C205.2,473.4 204.2,472.8 203.2,472.3 C202.2,471.7 201.2,471.2 200.2,470.7 C199.2,470.2 198.2,469.7 197.2,469.2 C196.2,468.7 195.2,468.2 194.2,467.7 C193.2,467.2 192.2,466.8 191.2,466.3 C190.2,465.9 189.2,465.4 188.2,465.0 C187.2,464.6 186.2,464.2 185.2,463.8 C184.2,463.4 183.2,463.0 182.2,462.6 C181.2,462.2 180.2,461.8 179.2,461.5 C178.2,461.1 177.2,460.7 176.2,460.4 C175.2,460.1 174.2,459.7 173.2,459.4 C172.2,459.1 171.2,458.8 170.2,458.5 C169.2,458.2 168.2,457.9 167.2,457.6 C166.1,457.3 165.1,457.0 164.1,456.7 C163.1,456.5 162.1,456.2 161.1,456.0 C160.1,455.7 159.1,455.5 158.1,455.2 C157.1,455.0 156.1,454.7 155.1,454.5 C154.1,454.3 153.1,454.1 152.1,453.9 C151.1,453.7 150.1,453.5 149.1,453.3 C148.1,453.1 147.1,452.9 146.1,452.7 C145.1,452.5 144.1,452.3 143.1,452.2 C142.1,452.0 141.1,451.8 140.1,451.7 C139.1,451.5 138.1,451.3 137.1,451.2 C136.1,451.0 135.1,450.9 134.1,450.7 C133.1,450.6 132.1,450.5 131.1,450.3 C130.1,450.2 129.1,450.1 128.1,449.9 C127.1,449.8 126.1,449.7 125.1,449.6 C124.1,449.5 123.1,449.3 122.1,449.2 C121.1,449.1 120.1,449.0 119.1,448.9 C118.1,448.8 117.1,448.7 116.1,448.6 C115.1,448.5 114.1,448.4 113.1,448.3 C112.0,448.2 111.0,448.1 110.0,448.0 C109.0,447.9 108.0,447.8 107.0,447.7 C106.0,447.6 105.0,447.6 104.0,447.5 C103.0,447.4 102.0,447.3 101.0,447.2 C100.0,447.1 99.0,447.0 98.0,446.9 C97.0,446.9 96.0,446.8 95.0,446.7 C94.0,446.6 93.0,446.5 92.0,446.4 C91.0,446.3 90.0,446.2 89.0,446.1 C88.0,446.1 86.5,445.9 86.0,445.9"/>
<path d="M87.8,397.9 C88.0,394.8 88.1,384.3 88.9,379.3 C89.7,374.2 91.0,371.1 92.5,367.6 C94.0,364.1 95.5,361.2 97.9,358.1 C100.3,355.1 103.4,352.0 106.9,349.3 C110.3,346.7 114.5,344.4 118.7,342.2 C122.9,340.0 127.7,338.0 132.2,336.3 C136.7,334.5 141.3,333.1 145.8,331.6 C150.3,330.1 153.9,328.9 159.3,327.3 C164.7,325.7 174.4,322.9 178.0,321.9 C181.6,320.9 180.0,321.4 181.0,321.2 C182.0,320.9 183.0,320.7 184.0,320.4 C185.0,320.2 186.0,319.9 187.0,319.6 C188.0,319.4 189.0,319.1 190.0,318.8 C191.1,318.5 192.1,318.2 193.1,318.0 C194.1,317.7 195.1,317.4 196.1,317.1 C197.1,316.8 198.1,316.5 199.1,316.2 C200.1,315.9 201.1,315.6 202.1,315.3 C203.1,314.9 204.1,314.6 205.1,314.3 C206.1,314.0 207.1,313.7 208.1,313.4 C209.1,313.0 210.1,312.7 211.1,312.4 C212.1,312.1 213.1,311.7 214.1,311.4 C215.1,311.1 216.1,310.8 217.2,310.4 C218.2,310.1 219.2,309.8 220.2,309.5 C221.2,309.1 222.2,308.8 223.2,308.5 C224.2,308.2 225.2,307.8 226.2,307.5 C227.2,307.2 228.2,306.9 229.2,306.6 C230.2,306.2 231.2,305.9 232.2,305.6 C233.2,305.3 234.2,305.0 235.2,304.7 C236.2,304.3 237.2,304.0 238.2,303.7 C239.2,303.4 240.2,303.1 241.2,302.8 C242.3,302.5 243.3,302.2 244.3,302.0 C245.3,301.7 246.3,301.4 247.3,301.1 C248.3,300.8 249.3,300.6 250.3,300.3 C251.3,300.0 252.3,299.8 253.3,299.5 C254.3,299.2 255.3,299.0 256.3,298.7 C257.3,298.5 258.3,298.2 259.3,298.0 C260.3,297.7 261.3,297.5 262.3,297.2 C263.3,297.0 264.3,296.7 265.3,296.5 C266.3,296.2 267.4,296.0 268.4,295.7 C269.4,295.5 270.4,295.2 271.4,294.9 C272.4,294.7 273.4,294.4 274.4,294.1 C275.4,293.9 276.4,293.6 277.4,293.3 C278.4,293.0 279.4,292.7 280.4,292.4 C281.4,292.1 282.4,291.7 283.4,291.4 C284.4,291.1 285.4,290.7 286.4,290.4 C287.4,290.0 288.4,289.7 289.4,289.3 C290.4,288.9 291.4,288.5 292.4,288.1 C293.5,287.7 294.5,287.4 295.5,286.9 C296.5,286.5 297.5,286.1 298.5,285.7 C299.5,285.3 300.5,284.8 301.5,284.4 C302.5,283.9 303.5,283.5 304.5,283.0 C305.5,282.6 306.5,282.1 307.5,281.6 C308.5,281.2 309.5,280.7 310.5,280.2 C311.5,279.7 312.5,279.2 313.5,278.7 C314.5,278.2 315.5,277.7 316.5,277.2 C317.5,276.6 318.6,276.1 319.6,275.6 C320.6,275.0 321.6,274.5 322.6,273.9 C323.6,273.4 324.6,272.8 325.6,272.3 C326.6,271.7 327.6,271.2 328.6,270.6 C329.6,270.0 330.6,269.4 331.6,268.8 C332.6,268.2 333.6,267.7 334.6,267.1 C335.6,266.5 336.6,265.9 337.6,265.2 C338.6,264.6 339.6,264.0 340.6,263.4 C341.6,262.8 342.6,262.2 343.6,261.5 C344.7,260.9 345.7,260.3 346.7,259.6 C347.7,259.0 348.7,258.3 349.7,257.7 C350.7,257.0 351.7,256.4 352.7,255.7 C353.7,255.1 354.7,254.4 355.7,253.7 C356.7,253.1 357.7,252.4 358.7,251.7 C359.7,251.0 360.7,250.4 361.7,249.7 C362.7,249.0 363.7,248.3 364.7,247.6 C365.7,246.9 366.7,246.2 367.7,245.5 C368.7,244.9 369.8,244.2 370.8,243.5 C371.8,242.8 372.8,242.0 373.8,241.3 C374.8,240.6 375.8,239.9 376.8,239.2 C377.8,238.5 378.8,237.8 379.8,237.1 C380.8,236.4 381.8,235.6 382.8,234.9 C383.8,234.2 384.8,233.5 385.8,232.7 C386.8,232.0 387.8,231.3 388.8,230.6 C389.8,229.9 390.8,229.1 391.8,228.4 C392.8,227.7 393.8,226.9 394.8,226.2 C395.9,225.5 396.9,224.7 397.9,224.0 C398.9,223.3 399.9,222.6 400.9,221.8 C401.9,221.1 402.9,220.4 403.9,219.6 C404.9,218.9 405.9,218.2 406.9,217.4 C407.9,216.7 408.9,216.0 409.9,215.2 C410.9,214.5 411.9,213.8 412.9,213.1 C413.9,212.3 414.9,211.6 415.9,210.9 C416.9,210.2 417.9,209.4 418.9,208.7 C419.9,208.0 421.0,207.3 422.0,206.5 C423.0,205.8 424.0,205.1 425.0,204.4 C426.0,203.7 427.0,203.0 428.0,202.2 C429.0,201.5 430.0,200.8 431.0,200.1 C432.0,199.4 433.0,198.7 434.0,198.0 C435.0,197.3 436.0,196.6 437.0,195.9 C438.0,195.2 439.0,194.5 440.0,193.8 C441.0,193.1 442.0,192.5 443.0,191.8 C444.0,191.1 445.0,190.4 446.1,189.7 C447.1,189.1 448.1,188.4 449.1,187.7 C450.1,187.1 451.1,186.4 452.1,185.7 C453.1,185.1 454.1,184.4 455.1,183.8 C456.1,183.1 457.1,182.5 458.1,181.8 C459.1,181.2 460.1,180.6 461.1,179.9 C462.1,179.3 463.1,178.7 464.1,178.1 C465.1,177.5 466.1,176.8 467.1,176.2 C468.1,175.6 469.1,175.0 470.1,174.4 C471.1,173.8 472.2,173.2 473.2,172.7 C474.2,172.1 475.2,171.5 476.2,170.9 C477.2,170.4 478.2,169.8 479.2,169.2 C480.2,168.7 481.2,168.1 482.2,167.6 C483.2,167.0 484.2,166.5 485.2,166.0 C486.2,165.5 487.2,165.0 488.2,164.4 C489.2,163.9 490.2,163.4 491.2,163.0 C492.2,162.5 493.2,162.0 494.2,161.6 C495.2,161.1 496.2,160.7 497.3,160.2 C498.3,159.8 499.3,159.4 500.3,159.0 C501.3,158.6 502.3,158.2 503.3,157.9 C504.3,157.5 505.3,157.2 506.3,156.9 C507.3,156.5 508.3,156.2 509.3,155.9 C510.3,155.7 511.3,155.4 512.3,155.2 C513.3,154.9 514.3,154.7 515.3,154.5 C516.3,154.3 517.3,154.2 518.3,154.0 C519.3,153.9 520.3,153.8 521.3,153.7 C522.3,153.6 523.4,153.5 524.4,153.5 C525.4,153.4 526.4,153.4 527.4,153.5 C528.4,153.5 529.4,153.5 530.4,153.6 C531.4,153.7 532.4,153.8 533.4,154.0 C534.4,154.1 535.4,154.3 536.4,154.5 C537.4,154.7 538.4,155.0 539.4,155.3 C540.4,155.5 541.4,155.9 542.4,156.2 C543.4,156.6 544.4,157.0 545.4,157.4 C546.4,157.8 547.4,158.3 548.5,158.8 C549.5,159.3 550.5,159.9 551.5,160.4 C552.5,161.0 553.5,161.7 554.5,162.3 C555.5,163.0 556.5,163.7 557.5,164.4 C558.5,165.1 559.5,165.9 560.5,166.7 C561.5,167.5 562.5,168.3 563.5,169.2 C564.5,170.1 565.5,171.0 566.5,171.9 C567.5,172.8 568.5,173.8 569.5,174.8 C570.5,175.8 571.5,176.8 572.5,177.9 C573.5,178.9 574.6,180.0 575.6,181.1 C576.6,182.2 577.6,183.3 578.6,184.4 C579.6,185.5 580.6,186.7 581.6,187.8 C582.6,188.9 583.6,190.1 584.6,191.2 C585.6,192.4 586.6,193.5 587.6,194.7 C588.6,195.8 589.6,197.0 590.6,198.1 C591.6,199.2 592.6,200.3 593.6,201.4 C594.6,202.5 595.6,203.6 596.6,204.7 C597.6,205.7 598.6,206.8 599.7,207.8 C600.7,208.9 601.7,209.9 602.7,210.9 C603.7,211.9 604.7,212.9 605.7,213.9 C606.7,214.9 607.7,215.8 608.7,216.8 C609.7,217.7 610.7,218.7 611.7,219.6 C612.7,220.5 613.7,221.4 614.7,222.3 C615.7,223.2 616.7,224.1 617.7,224.9 C618.7,225.8 619.7,226.6 620.7,227.5 C621.7,228.3 622.7,229.1 623.7,229.9 C624.8,230.7 625.8,231.4 626.8,232.2 C627.8,233.0 628.8,233.7 629.8,234.4 C630.8,235.1 631.8,235.9 632.8,236.5 C633.8,237.2 634.8,237.9 635.8,238.5 C636.8,239.2 637.8,239.8 638.8,240.4 C639.8,241.1 640.8,241.7 641.8,242.2 C642.8,242.8 643.8,243.4 644.8,243.9 C645.8,244.4 646.8,245.0 647.8,245.5 C648.8,246.0 649.8,246.5 650.9,246.9 C651.9,247.4 652.9,247.9 653.9,248.3 C654.9,248.8 655.9,249.2 656.9,249.6 C657.9,250.0 658.9,250.5 659.9,250.8 C660.9,251.2 661.9,251.6 662.9,252.0 C663.9,252.4 664.9,252.7 665.9,253.1 C666.9,253.4 667.9,253.8 668.9,254.1 C669.9,254.4 670.9,254.7 671.9,255.1 C672.9,255.4 673.9,255.7 674.9,256.0 C676.0,256.3 677.0,256.6 678.0,256.8 C679.0,257.1 680.0,257.4 681.0,257.7 C682.0,258.0 683.0,258.2 684.0,258.5 C685.0,258.7 686.0,259.0 687.0,259.3 C688.0,259.5 689.0,259.8 690.0,260.0 C691.0,260.3 692.0,260.5 693.0,260.8 C694.0,261.0 695.0,261.3 696.0,261.5 C697.0,261.8 698.0,262.0 699.0,262.3 C700.0,262.5 701.0,262.8 702.1,263.0 C703.1,263.3 704.1,263.5 705.1,263.8 C706.1,264.1 707.1,264.3 708.1,264.6 C709.1,264.9 710.1,265.1 711.1,265.4 C712.1,265.7 713.8,263.5 714.1,266.2 C714.4,269.0 713.3,276.6 712.8,281.7 C712.3,286.9 711.9,291.9 711.1,296.9 C710.3,301.9 709.2,306.9 707.8,311.7 C706.5,316.6 705.0,321.6 703.0,326.2 C701.0,330.8 698.6,335.3 695.7,339.4 C692.8,343.5 689.2,347.2 685.4,350.6 C681.7,353.9 677.7,357.2 673.3,359.6 C669.0,362.1 664.0,363.7 659.3,365.4 C654.5,367.1 649.7,368.6 644.8,369.9 C639.9,371.3 633.5,372.8 630.0,373.6 C626.5,374.3 625.5,374.0 624.0,374.3 C622.5,374.6 622.0,375.0 621.0,375.4 C620.0,375.7 619.0,376.1 618.0,376.4 C617.0,376.7 616.0,377.1 615.0,377.4 C614.0,377.7 613.0,378.0 612.0,378.3 C611.0,378.6 610.0,378.9 609.0,379.2 C608.0,379.5 607.0,379.8 606.0,380.1 C605.0,380.4 604.0,380.6 603.0,380.9 C602.0,381.2 601.0,381.5 600.0,381.7 C599.0,382.0 598.0,382.3 596.9,382.5 C595.9,382.8 594.9,383.1 593.9,383.3 C592.9,383.6 591.9,383.9 590.9,384.1 C589.9,384.4 588.9,384.7 587.9,385.0 C586.9,385.2 585.9,385.5 584.9,385.8 C583.9,386.1 582.9,386.3 581.9,386.6 C580.9,386.9 579.9,387.2 578.9,387.5 C577.9,387.8 576.9,388.1 575.9,388.4 C574.9,388.7 573.9,389.0 572.9,389.4 C571.9,389.7 570.9,390.0 569.9,390.4 C568.9,390.7 567.9,391.1 566.9,391.4 C565.9,391.8 564.9,392.2 563.9,392.6 C562.9,392.9 561.9,393.3 560.9,393.8 C559.9,394.2 558.9,394.6 557.9,395.0 C556.9,395.5 555.9,395.9 554.9,396.4 C553.9,396.8 552.9,397.3 551.9,397.8 C550.9,398.3 549.9,398.7 548.9,399.3 C547.9,399.8 546.9,400.3 545.9,400.8 C544.9,401.3 543.9,401.9 542.8,402.5 C541.8,403.0 540.8,403.6 539.8,404.2 C538.8,404.8 537.8,405.3 536.8,406.0 C535.8,406.6 534.8,407.2 533.8,407.8 C532.8,408.5 531.8,409.1 530.8,409.8 C529.8,410.4 528.8,411.1 527.8,411.8 C526.8,412.5 525.8,413.2 524.8,413.9 C523.8,414.6 522.8,415.4 521.8,416.1 C520.8,416.9 519.8,417.6 518.8,418.4 C517.8,419.2 516.8,419.9 515.8,420.7 C514.8,421.5 513.8,422.3 512.8,423.1 C511.8,423.9 510.8,424.8 509.8,425.6 C508.8,426.4 507.8,427.3 506.8,428.1 C505.8,429.0 504.8,429.8 503.8,430.7 C502.8,431.5 501.8,432.4 500.8,433.3 C499.8,434.2 498.8,435.0 497.8,435.9 C496.8,436.8 495.8,437.7 494.8,438.6 C493.8,439.5 492.8,440.4 491.8,441.3 C490.8,442.2 489.8,443.1 488.7,444.0 C487.7,444.9 486.7,445.8 485.7,446.7 C484.7,447.6 483.7,448.5 482.7,449.4 C481.7,450.3 480.7,451.2 479.7,452.1 C478.7,453.0 477.7,453.9 476.7,454.8 C475.7,455.7 474.7,456.5 473.7,457.4 C472.7,458.3 471.7,459.2 470.7,460.1 C469.7,461.0 468.7,461.8 467.7,462.7 C466.7,463.6 465.7,464.4 464.7,465.3 C463.7,466.1 462.7,467.0 461.7,467.8 C460.7,468.7 459.7,469.5 458.7,470.3 C457.7,471.1 456.7,471.9 455.7,472.7 C454.7,473.5 453.7,474.3 452.7,475.1 C451.7,475.9 450.7,476.7 449.7,477.4 C448.7,478.2 447.7,479.0 446.7,479.7 C445.7,480.4 444.7,481.2 443.7,481.9 C442.7,482.6 441.7,483.4 440.7,484.1 C439.7,484.8 438.7,485.5 437.7,486.2 C436.7,486.9 435.6,487.6 434.6,488.2 C433.6,488.9 432.6,489.6 431.6,490.3 C430.6,490.9 429.6,491.6 428.6,492.2 C427.6,492.9 426.6,493.5 425.6,494.2 C424.6,494.8 423.6,495.5 422.6,496.1 C421.6,496.7 420.6,497.3 419.6,498.0 C418.6,498.6 417.6,499.2 416.6,499.8 C415.6,500.4 414.6,501.0 413.6,501.6 C412.6,502.2 411.6,502.8 410.6,503.4 C409.6,504.0 408.6,504.6 407.6,505.1 C406.6,505.7 405.6,506.3 404.6,506.9 C403.6,507.4 402.6,508.0 401.6,508.6 C400.6,509.1 399.6,509.7 398.6,510.3 C397.6,510.8 396.6,511.4 395.6,511.9 C394.6,512.5 393.6,513.0 392.6,513.6 C391.6,514.1 390.6,514.7 389.6,515.2 C388.6,515.7 387.6,516.3 386.6,516.8 C385.6,517.3 384.6,517.8 383.6,518.4 C382.6,518.9 381.5,519.4 380.5,519.9 C379.5,520.4 378.5,520.9 377.5,521.3 C376.5,521.8 375.5,522.3 374.5,522.7 C373.5,523.2 372.5,523.6 371.5,524.1 C370.5,524.5 369.5,524.9 368.5,525.4 C367.5,525.8 366.5,526.2 365.5,526.6 C364.5,527.0 363.5,527.3 362.5,527.7 C361.5,528.0 360.5,528.4 359.5,528.7 C358.5,529.1 357.5,529.4 356.5,529.7 C355.5,530.0 354.5,530.2 353.5,530.5 C352.5,530.8 351.5,531.0 350.5,531.2 C349.5,531.5 348.5,531.7 347.5,531.9 C346.5,532.1 345.5,532.2 344.5,532.4 C343.5,532.5 342.5,532.6 341.5,532.8 C340.5,532.9 339.5,532.9 338.5,533.0 C337.5,533.1 336.5,533.1 335.5,533.1 C334.5,533.1 333.5,533.1 332.5,533.1 C331.5,533.1 330.5,533.0 329.5,532.9 C328.5,532.9 327.4,532.8 326.4,532.7 C325.4,532.5 324.4,532.4 323.4,532.2 C322.4,532.1 321.4,531.9 320.4,531.7 C319.4,531.5 318.4,531.3 317.4,531.1 C316.4,530.8 315.4,530.6 314.4,530.3 C313.4,530.0 312.4,529.8 311.4,529.4 C310.4,529.1 309.4,528.8 308.4,528.5 C307.4,528.1 306.4,527.8 305.4,527.4 C304.4,527.0 303.4,526.7 302.4,526.3 C301.4,525.9 300.4,525.4 299.4,525.0 C298.4,524.6 297.4,524.1 296.4,523.7 C295.4,523.2 294.4,522.7 293.4,522.3 C292.4,521.8 291.4,521.3 290.4,520.8 C289.4,520.3 288.4,519.7 287.4,519.2 C286.4,518.7 285.4,518.1 284.4,517.6 C283.4,517.0 282.4,516.4 281.4,515.9 C280.4,515.3 279.4,514.7 278.4,514.1 C277.4,513.5 276.4,512.9 275.4,512.3 C274.4,511.7 273.3,511.1 272.3,510.4 C271.3,509.8 270.3,509.2 269.3,508.5 C268.3,507.9 267.3,507.2 266.3,506.6 C265.3,505.9 264.3,505.2 263.3,504.6 C262.3,503.9 261.3,503.2 260.3,502.6 C259.3,501.9 258.3,501.2 257.3,500.5 C256.3,499.8 255.3,499.1 254.3,498.4 C253.3,497.8 252.3,497.1 251.3,496.4 C250.3,495.7 249.3,495.0 248.3,494.3 C247.3,493.6 246.3,492.9 245.3,492.2 C244.3,491.5 243.3,490.8 242.3,490.1 C241.3,489.4 240.3,488.7 239.3,488.0 C238.3,487.3 237.3,486.6 236.3,485.9 C235.3,485.2 234.3,484.5 233.3,483.9 C232.3,483.2 231.3,482.5 230.3,481.8 C229.3,481.1 228.3,480.5 227.3,479.8 C226.3,479.1 225.3,478.5 224.3,477.8 C223.3,477.2 222.3,476.5 221.3,475.9 C220.2,475.2 219.2,474.6 218.2,474.0 C217.2,473.3 216.2,472.7 215.2,472.1 C214.2,471.5 213.2,470.9 212.2,470.3 C211.2,469.7 210.2,469.1 209.2,468.6 C208.2,468.0 207.2,467.4 206.2,466.9 C205.2,466.3 204.2,465.8 203.2,465.3 C202.2,464.7 201.2,464.2 200.2,463.7 C199.2,463.2 198.2,462.7 197.2,462.3 C196.2,461.8 195.2,461.3 194.2,460.9 C193.2,460.4 192.2,460.0 191.2,459.6 C190.2,459.2 189.2,458.8 188.2,458.4 C187.2,458.0 186.2,457.6 185.2,457.3 C184.2,456.9 183.2,456.6 182.2,456.2 C181.2,455.9 180.2,455.6 179.2,455.3 C178.2,455.0 177.2,454.7 176.2,454.4 C175.2,454.2 174.2,453.9 173.2,453.7 C172.2,453.4 171.2,453.2 170.2,452.9 C169.2,452.7 168.2,452.5 167.2,452.2 C166.1,452.0 165.1,451.8 164.1,451.6 C163.1,451.4 162.1,451.2 161.1,451.0 C160.1,450.8 159.1,450.7 158.1,450.5 C157.1,450.3 156.1,450.1 155.1,450.0 C154.1,449.8 153.1,449.6 152.1,449.5 C151.1,449.3 150.1,449.1 149.1,449.0 C148.1,448.8 147.1,448.7 146.1,448.5 C145.1,448.4 144.1,448.2 143.1,448.1 C142.1,447.9 141.1,447.7 140.1,447.6 C139.1,447.4 138.1,447.3 137.1,447.1 C136.1,446.9 135.1,446.8 134.1,446.6 C133.1,446.5 132.1,446.3 131.1,446.1 C130.1,446.0 129.1,445.8 128.1,445.6 C127.1,445.5 126.1,445.3 125.1,445.1 C124.1,445.0 123.1,444.8 122.1,444.7 C121.1,444.5 120.1,444.4 119.1,444.2 C118.1,444.1 117.1,443.9 116.1,443.8 C115.1,443.6 114.1,443.5 113.1,443.4 C112.0,443.2 111.0,443.1 110.0,443.0 C109.0,442.9 108.0,442.8 107.0,442.7 C106.0,442.6 105.0,442.5 104.0,442.4 C103.0,442.3 102.0,442.2 101.0,442.2 C100.0,442.1 99.0,442.0 98.0,442.0 C97.0,441.9 96.0,441.9 95.0,441.9 C94.0,441.8 93.0,441.8 92.0,441.8 C91.0,441.8 90.0,441.8 89.0,441.8 C88.0,441.8 86.5,441.9 86.0,441.9"/>
<path d="M87.8,397.9 C88.1,394.9 88.6,384.8 89.5,379.9 C90.4,375.1 91.7,372.1 93.3,368.6 C94.8,365.1 96.3,362.1 98.7,359.1 C101.0,356.0 104.1,352.9 107.4,350.3 C110.8,347.6 114.6,345.4 118.7,343.2 C122.8,341.0 127.7,338.8 132.2,336.9 C136.7,335.1 141.3,333.6 145.8,332.1 C150.3,330.5 153.9,329.2 159.3,327.6 C164.7,326.0 174.4,323.2 178.0,322.2 C181.6,321.2 180.0,321.7 181.0,321.5 C182.0,321.3 183.0,321.0 184.0,320.8 C185.0,320.6 186.0,320.3 187.0,320.0 C188.0,319.8 189.0,319.5 190.0,319.3 C191.0,319.0 192.0,318.7 193.1,318.4 C194.1,318.1 195.1,317.8 196.1,317.5 C197.1,317.3 198.1,317.0 199.1,316.7 C200.1,316.4 201.1,316.0 202.1,315.7 C203.1,315.4 204.1,315.1 205.1,314.8 C206.1,314.5 207.1,314.2 208.1,313.8 C209.1,313.5 210.1,313.2 211.1,312.9 C212.1,312.5 213.1,312.2 214.1,311.9 C215.1,311.6 216.1,311.2 217.1,310.9 C218.1,310.6 219.1,310.2 220.1,309.9 C221.2,309.6 222.2,309.3 223.2,308.9 C224.2,308.6 225.2,308.3 226.2,308.0 C227.2,307.7 228.2,307.3 229.2,307.0 C230.2,306.7 231.2,306.4 232.2,306.1 C233.2,305.8 234.2,305.5 235.2,305.2 C236.2,304.9 237.2,304.6 238.2,304.3 C239.2,304.0 240.2,303.7 241.2,303.4 C242.2,303.1 243.2,302.8 244.2,302.6 C245.2,302.3 246.2,302.0 247.2,301.8 C248.2,301.5 249.3,301.3 250.3,301.0 C251.3,300.8 252.3,300.5 253.3,300.3 C254.3,300.1 255.3,299.8 256.3,299.6 C257.3,299.4 258.3,299.2 259.3,299.0 C260.3,298.8 261.3,298.5 262.3,298.3 C263.3,298.1 264.3,297.9 265.3,297.7 C266.3,297.5 267.3,297.3 268.3,297.0 C269.3,296.8 270.3,296.6 271.3,296.3 C272.3,296.1 273.3,295.9 274.3,295.6 C275.3,295.4 276.3,295.1 277.4,294.9 C278.4,294.6 279.4,294.3 280.4,294.0 C281.4,293.7 282.4,293.4 283.4,293.1 C284.4,292.8 285.4,292.5 286.4,292.1 C287.4,291.8 288.4,291.4 289.4,291.1 C290.4,290.7 291.4,290.3 292.4,290.0 C293.4,289.6 294.4,289.2 295.4,288.8 C296.4,288.4 297.4,287.9 298.4,287.5 C299.4,287.1 300.4,286.7 301.4,286.2 C302.4,285.8 303.4,285.3 304.4,284.8 C305.5,284.4 306.5,283.9 307.5,283.4 C308.5,282.9 309.5,282.4 310.5,281.9 C311.5,281.4 312.5,280.9 313.5,280.4 C314.5,279.9 315.5,279.4 316.5,278.8 C317.5,278.3 318.5,277.8 319.5,277.2 C320.5,276.7 321.5,276.1 322.5,275.6 C323.5,275.0 324.5,274.4 325.5,273.9 C326.5,273.3 327.5,272.7 328.5,272.1 C329.5,271.5 330.5,270.9 331.5,270.3 C332.5,269.7 333.6,269.1 334.6,268.5 C335.6,267.9 336.6,267.3 337.6,266.7 C338.6,266.0 339.6,265.4 340.6,264.8 C341.6,264.2 342.6,263.5 343.6,262.9 C344.6,262.2 345.6,261.6 346.6,260.9 C347.6,260.3 348.6,259.6 349.6,259.0 C350.6,258.3 351.6,257.7 352.6,257.0 C353.6,256.4 354.6,255.7 355.6,255.0 C356.6,254.4 357.6,253.7 358.6,253.0 C359.6,252.3 360.6,251.7 361.7,251.0 C362.7,250.3 363.7,249.6 364.7,249.0 C365.7,248.3 366.7,247.6 367.7,246.9 C368.7,246.2 369.7,245.6 370.7,244.9 C371.7,244.2 372.7,243.5 373.7,242.8 C374.7,242.2 375.7,241.5 376.7,240.8 C377.7,240.1 378.7,239.5 379.7,238.8 C380.7,238.1 381.7,237.4 382.7,236.8 C383.7,236.1 384.7,235.5 385.7,234.8 C386.7,234.2 387.7,233.5 388.7,232.9 C389.8,232.2 390.8,231.6 391.8,231.0 C392.8,230.3 393.8,229.7 394.8,229.1 C395.8,228.5 396.8,227.9 397.8,227.3 C398.8,226.7 399.8,226.1 400.8,225.5 C401.8,224.9 402.8,224.4 403.8,223.8 C404.8,223.2 405.8,222.7 406.8,222.1 C407.8,221.6 408.8,221.0 409.8,220.5 C410.8,220.0 411.8,219.4 412.8,218.9 C413.8,218.4 414.8,217.8 415.8,217.3 C416.8,216.8 417.9,216.3 418.9,215.7 C419.9,215.2 420.9,214.7 421.9,214.1 C422.9,213.6 423.9,213.1 424.9,212.5 C425.9,212.0 426.9,211.5 427.9,210.9 C428.9,210.4 429.9,209.8 430.9,209.3 C431.9,208.8 432.9,208.2 433.9,207.7 C434.9,207.2 435.9,206.6 436.9,206.1 C437.9,205.6 438.9,205.1 439.9,204.6 C440.9,204.0 441.9,203.5 442.9,203.0 C443.9,202.5 444.9,202.0 445.9,201.5 C447.0,201.0 448.0,200.5 449.0,200.0 C450.0,199.5 451.0,199.0 452.0,198.5 C453.0,198.1 454.0,197.6 455.0,197.1 C456.0,196.7 457.0,196.2 458.0,195.8 C459.0,195.3 460.0,194.9 461.0,194.5 C462.0,194.0 463.0,193.6 464.0,193.2 C465.0,192.8 466.0,192.4 467.0,192.0 C468.0,191.7 469.0,191.3 470.0,190.9 C471.0,190.6 472.0,190.2 473.0,189.9 C474.0,189.5 475.1,189.2 476.1,188.9 C477.1,188.6 478.1,188.3 479.1,188.0 C480.1,187.8 481.1,187.5 482.1,187.2 C483.1,187.0 484.1,186.8 485.1,186.5 C486.1,186.3 487.1,186.1 488.1,185.9 C489.1,185.7 490.1,185.6 491.1,185.4 C492.1,185.2 493.1,185.1 494.1,184.9 C495.1,184.8 496.1,184.7 497.1,184.6 C498.1,184.4 499.1,184.3 500.1,184.3 C501.1,184.2 502.1,184.1 503.2,184.0 C504.2,184.0 505.2,183.9 506.2,183.9 C507.2,183.8 508.2,183.8 509.2,183.8 C510.2,183.7 511.2,183.7 512.2,183.7 C513.2,183.7 514.2,183.7 515.2,183.8 C516.2,183.8 517.2,183.8 518.2,183.9 C519.2,184.0 520.2,184.1 521.2,184.2 C522.2,184.3 523.2,184.5 524.2,184.6 C525.2,184.8 526.2,185.0 527.2,185.3 C528.2,185.5 529.2,185.8 530.2,186.1 C531.3,186.4 532.3,186.8 533.3,187.2 C534.3,187.5 535.3,188.0 536.3,188.4 C537.3,188.9 538.3,189.3 539.3,189.8 C540.3,190.3 541.3,190.9 542.3,191.4 C543.3,192.0 544.3,192.6 545.3,193.2 C546.3,193.8 547.3,194.4 548.3,195.1 C549.3,195.8 550.3,196.4 551.3,197.1 C552.3,197.8 553.3,198.6 554.3,199.3 C555.3,200.0 556.3,200.8 557.3,201.6 C558.3,202.3 559.4,203.1 560.4,203.9 C561.4,204.7 562.4,205.5 563.4,206.3 C564.4,207.2 565.4,208.0 566.4,208.9 C567.4,209.7 568.4,210.6 569.4,211.4 C570.4,212.3 571.4,213.2 572.4,214.0 C573.4,214.9 574.4,215.8 575.4,216.7 C576.4,217.5 577.4,218.4 578.4,219.3 C579.4,220.2 580.4,221.1 581.4,222.0 C582.4,222.9 583.4,223.8 584.4,224.7 C585.4,225.5 586.4,226.4 587.5,227.3 C588.5,228.2 589.5,229.1 590.5,229.9 C591.5,230.8 592.5,231.7 593.5,232.5 C594.5,233.4 595.5,234.2 596.5,235.1 C597.5,235.9 598.5,236.7 599.5,237.5 C600.5,238.4 601.5,239.2 602.5,240.0 C603.5,240.8 604.5,241.5 605.5,242.3 C606.5,243.1 607.5,243.8 608.5,244.6 C609.5,245.3 610.5,246.0 611.5,246.7 C612.5,247.4 613.5,248.1 614.5,248.7 C615.6,249.4 616.6,250.0 617.6,250.7 C618.6,251.3 619.6,251.9 620.6,252.4 C621.6,253.0 622.6,253.6 623.6,254.1 C624.6,254.6 625.6,255.1 626.6,255.6 C627.6,256.1 628.6,256.5 629.6,256.9 C630.6,257.4 631.6,257.8 632.6,258.2 C633.6,258.5 634.6,258.9 635.6,259.3 C636.6,259.6 637.6,259.9 638.6,260.3 C639.6,260.6 640.6,260.9 641.6,261.2 C642.6,261.5 643.7,261.7 644.7,262.0 C645.7,262.3 646.7,262.5 647.7,262.8 C648.7,263.0 649.7,263.2 650.7,263.5 C651.7,263.7 652.7,263.9 653.7,264.1 C654.7,264.3 655.7,264.5 656.7,264.7 C657.7,264.9 658.7,265.1 659.7,265.3 C660.7,265.5 661.7,265.7 662.7,265.9 C663.7,266.1 664.7,266.3 665.7,266.5 C666.7,266.7 667.7,266.8 668.7,267.0 C669.7,267.2 670.7,267.4 671.8,267.6 C672.8,267.7 673.8,267.9 674.8,268.1 C675.8,268.2 676.8,268.4 677.8,268.6 C678.8,268.7 679.8,268.9 680.8,269.0 C681.8,269.2 682.8,269.3 683.8,269.5 C684.8,269.6 685.8,269.8 686.8,269.9 C687.8,270.1 688.8,270.2 689.8,270.3 C690.8,270.5 691.8,270.6 692.8,270.7 C693.8,270.9 694.8,271.0 695.8,271.1 C696.8,271.2 697.8,271.3 698.8,271.5 C699.9,271.6 700.9,271.7 701.9,271.8 C702.9,271.9 703.9,272.0 704.9,272.1 C705.9,272.2 706.9,272.3 707.9,272.4 C708.9,272.5 709.9,272.6 710.9,272.7 C711.9,272.8 713.7,271.5 713.9,273.0 C714.1,274.5 712.9,277.6 712.2,281.5 C711.6,285.5 711.1,291.5 710.2,296.5 C709.3,301.4 708.1,306.4 706.8,311.2 C705.4,316.0 704.0,320.9 702.0,325.5 C700.0,330.1 697.7,334.7 694.9,338.7 C692.0,342.8 688.6,346.6 684.9,350.0 C681.3,353.4 677.3,356.6 673.0,359.1 C668.7,361.6 663.8,363.4 659.1,365.2 C654.4,366.9 649.6,368.4 644.7,369.7 C639.9,371.1 633.5,372.5 630.0,373.2 C626.5,374.0 625.5,373.9 624.0,374.3 C622.5,374.6 622.0,374.8 621.0,375.1 C620.0,375.4 619.0,375.7 618.0,375.9 C617.0,376.2 616.0,376.4 615.0,376.7 C614.0,376.9 613.0,377.2 612.0,377.4 C611.0,377.7 610.0,377.9 609.0,378.1 C608.0,378.4 607.0,378.6 606.0,378.8 C605.0,379.0 604.0,379.3 603.0,379.5 C602.0,379.7 601.0,379.9 600.0,380.1 C599.0,380.4 598.0,380.6 596.9,380.8 C595.9,381.0 594.9,381.2 593.9,381.4 C592.9,381.7 591.9,381.9 590.9,382.1 C589.9,382.3 588.9,382.5 587.9,382.8 C586.9,383.0 585.9,383.2 584.9,383.4 C583.9,383.7 582.9,383.9 581.9,384.1 C580.9,384.4 579.9,384.6 578.9,384.9 C577.9,385.1 576.9,385.4 575.9,385.6 C574.9,385.9 573.9,386.2 572.9,386.4 C571.9,386.7 570.9,387.0 569.9,387.3 C568.9,387.6 567.9,387.9 566.9,388.2 C565.9,388.5 564.9,388.8 563.9,389.2 C562.9,389.5 561.9,389.8 560.9,390.2 C559.9,390.5 558.9,390.9 557.9,391.3 C556.9,391.6 555.9,392.0 554.9,392.4 C553.9,392.8 552.9,393.2 551.9,393.7 C550.9,394.1 549.9,394.5 548.9,395.0 C547.9,395.4 546.9,395.9 545.9,396.3 C544.9,396.8 543.9,397.3 542.8,397.8 C541.8,398.2 540.8,398.7 539.8,399.3 C538.8,399.8 537.8,400.3 536.8,400.8 C535.8,401.3 534.8,401.9 533.8,402.4 C532.8,403.0 531.8,403.5 530.8,404.1 C529.8,404.6 528.8,405.2 527.8,405.8 C526.8,406.4 525.8,407.0 524.8,407.6 C523.8,408.2 522.8,408.8 521.8,409.4 C520.8,410.0 519.8,410.6 518.8,411.2 C517.8,411.8 516.8,412.5 515.8,413.1 C514.8,413.7 513.8,414.4 512.8,415.0 C511.8,415.7 510.8,416.4 509.8,417.0 C508.8,417.7 507.8,418.3 506.8,419.0 C505.8,419.7 504.8,420.4 503.8,421.0 C502.8,421.7 501.8,422.4 500.8,423.1 C499.8,423.8 498.8,424.5 497.8,425.2 C496.8,425.9 495.8,426.6 494.8,427.3 C493.8,428.0 492.8,428.7 491.8,429.4 C490.8,430.1 489.8,430.9 488.7,431.6 C487.7,432.3 486.7,433.0 485.7,433.7 C484.7,434.4 483.7,435.2 482.7,435.9 C481.7,436.6 480.7,437.3 479.7,438.1 C478.7,438.8 477.7,439.5 476.7,440.2 C475.7,441.0 474.7,441.7 473.7,442.4 C472.7,443.1 471.7,443.8 470.7,444.6 C469.7,445.3 468.7,446.0 467.7,446.7 C466.7,447.5 465.7,448.2 464.7,448.9 C463.7,449.6 462.7,450.3 461.7,451.0 C460.7,451.7 459.7,452.4 458.7,453.1 C457.7,453.9 456.7,454.6 455.7,455.3 C454.7,456.0 453.7,456.6 452.7,457.3 C451.7,458.0 450.7,458.7 449.7,459.4 C448.7,460.1 447.7,460.8 446.7,461.4 C445.7,462.1 444.7,462.8 443.7,463.4 C442.7,464.1 441.7,464.7 440.7,465.4 C439.7,466.0 438.7,466.7 437.7,467.3 C436.7,468.0 435.6,468.6 434.6,469.2 C433.6,469.8 432.6,470.4 431.6,471.1 C430.6,471.7 429.6,472.3 428.6,472.9 C427.6,473.5 426.6,474.1 425.6,474.7 C424.6,475.2 423.6,475.8 422.6,476.4 C421.6,477.0 420.6,477.5 419.6,478.1 C418.6,478.7 417.6,479.2 416.6,479.8 C415.6,480.3 414.6,480.9 413.6,481.4 C412.6,482.0 411.6,482.5 410.6,483.1 C409.6,483.6 408.6,484.1 407.6,484.6 C406.6,485.2 405.6,485.7 404.6,486.2 C403.6,486.7 402.6,487.2 401.6,487.7 C400.6,488.2 399.6,488.7 398.6,489.2 C397.6,489.7 396.6,490.2 395.6,490.7 C394.6,491.2 393.6,491.7 392.6,492.2 C391.6,492.6 390.6,493.1 389.6,493.6 C388.6,494.1 387.6,494.5 386.6,495.0 C385.6,495.4 384.6,495.9 383.6,496.4 C382.6,496.8 381.5,497.3 380.5,497.7 C379.5,498.2 378.5,498.6 377.5,499.0 C376.5,499.5 375.5,499.9 374.5,500.3 C373.5,500.8 372.5,501.2 371.5,501.6 C370.5,502.0 369.5,502.4 368.5,502.8 C367.5,503.2 366.5,503.6 365.5,504.0 C364.5,504.4 363.5,504.7 362.5,505.1 C361.5,505.5 360.5,505.8 359.5,506.2 C358.5,506.5 357.5,506.8 356.5,507.2 C355.5,507.5 354.5,507.8 353.5,508.1 C352.5,508.4 351.5,508.7 350.5,508.9 C349.5,509.2 348.5,509.4 347.5,509.7 C346.5,509.9 345.5,510.1 344.5,510.4 C343.5,510.6 342.5,510.7 341.5,510.9 C340.5,511.1 339.5,511.2 338.5,511.4 C337.5,511.5 336.5,511.6 335.5,511.7 C334.5,511.8 333.5,511.9 332.5,512.0 C331.5,512.0 330.5,512.1 329.5,512.1 C328.5,512.1 327.4,512.1 326.4,512.1 C325.4,512.1 324.4,512.1 323.4,512.0 C322.4,511.9 321.4,511.9 320.4,511.8 C319.4,511.7 318.4,511.6 317.4,511.5 C316.4,511.3 315.4,511.2 314.4,511.0 C313.4,510.9 312.4,510.7 311.4,510.5 C310.4,510.3 309.4,510.1 308.4,509.9 C307.4,509.7 306.4,509.4 305.4,509.2 C304.4,508.9 303.4,508.6 302.4,508.3 C301.4,508.1 300.4,507.8 299.4,507.4 C298.4,507.1 297.4,506.8 296.4,506.5 C295.4,506.1 294.4,505.8 293.4,505.4 C292.4,505.0 291.4,504.6 290.4,504.2 C289.4,503.8 288.4,503.4 287.4,503.0 C286.4,502.6 285.4,502.1 284.4,501.7 C283.4,501.2 282.4,500.8 281.4,500.3 C280.4,499.8 279.4,499.3 278.4,498.8 C277.4,498.3 276.4,497.8 275.4,497.3 C274.4,496.8 273.3,496.3 272.3,495.7 C271.3,495.2 270.3,494.6 269.3,494.1 C268.3,493.5 267.3,493.0 266.3,492.4 C265.3,491.8 264.3,491.2 263.3,490.7 C262.3,490.1 261.3,489.5 260.3,488.9 C259.3,488.3 258.3,487.7 257.3,487.1 C256.3,486.5 255.3,485.9 254.3,485.3 C253.3,484.7 252.3,484.1 251.3,483.5 C250.3,482.8 249.3,482.2 248.3,481.6 C247.3,481.0 246.3,480.4 245.3,479.8 C244.3,479.2 243.3,478.6 242.3,477.9 C241.3,477.3 240.3,476.7 239.3,476.1 C238.3,475.5 237.3,474.9 236.3,474.3 C235.3,473.8 234.3,473.2 233.3,472.6 C232.3,472.0 231.3,471.4 230.3,470.9 C229.3,470.3 228.3,469.7 227.3,469.2 C226.3,468.6 225.3,468.1 224.3,467.6 C223.3,467.0 222.3,466.5 221.3,466.0 C220.2,465.5 219.2,465.0 218.2,464.5 C217.2,464.0 216.2,463.5 215.2,463.0 C214.2,462.5 213.2,462.1 212.2,461.6 C211.2,461.1 210.2,460.7 209.2,460.2 C208.2,459.8 207.2,459.4 206.2,458.9 C205.2,458.5 204.2,458.1 203.2,457.7 C202.2,457.3 201.2,456.9 200.2,456.5 C199.2,456.1 198.2,455.7 197.2,455.3 C196.2,454.9 195.2,454.6 194.2,454.2 C193.2,453.9 192.2,453.5 191.2,453.2 C190.2,452.8 189.2,452.5 188.2,452.1 C187.2,451.8 186.2,451.5 185.2,451.2 C184.2,450.9 183.2,450.6 182.2,450.3 C181.2,450.0 180.2,449.7 179.2,449.4 C178.2,449.1 177.2,448.8 176.2,448.5 C175.2,448.3 174.2,448.0 173.2,447.7 C172.2,447.5 171.2,447.2 170.2,447.0 C169.2,446.7 168.2,446.5 167.2,446.3 C166.1,446.0 165.1,445.8 164.1,445.6 C163.1,445.4 162.1,445.1 161.1,444.9 C160.1,444.7 159.1,444.5 158.1,444.3 C157.1,444.1 156.1,443.9 155.1,443.7 C154.1,443.5 153.1,443.4 152.1,443.2 C151.1,443.0 150.1,442.8 149.1,442.7 C148.1,442.5 147.1,442.3 146.1,442.2 C145.1,442.0 144.1,441.9 143.1,441.7 C142.1,441.6 141.1,441.4 140.1,441.3 C139.1,441.1 138.1,441.0 137.1,440.9 C136.1,440.7 135.1,440.6 134.1,440.5 C133.1,440.3 132.1,440.2 131.1,440.1 C130.1,440.0 129.1,439.9 128.1,439.8 C127.1,439.6 126.1,439.5 125.1,439.4 C124.1,439.3 123.1,439.2 122.1,439.1 C121.1,439.0 120.1,438.9 119.1,438.8 C118.1,438.7 117.1,438.6 116.1,438.6 C115.1,438.5 114.1,438.4 113.1,438.3 C112.0,438.2 111.0,438.1 110.0,438.0 C109.0,438.0 108.0,437.9 107.0,437.8 C106.0,437.7 105.0,437.7 104.0,437.6 C103.0,437.5 102.0,437.4 101.0,437.4 C100.0,437.3 99.0,437.2 98.0,437.2 C97.0,437.1 96.0,437.0 95.0,437.0 C94.0,436.9 93.0,436.8 92.0,436.8 C91.0,436.7 90.0,436.6 89.0,436.6 C88.0,436.5 86.5,436.4 86.0,436.4"/>
<path d="M87.8,397.9 C88.2,395.0 89.1,385.4 90.1,380.6 C91.2,375.9 92.5,373.0 94.0,369.5 C95.6,366.1 97.1,363.1 99.4,360.0 C101.8,357.0 104.8,353.8 108.0,351.2 C111.2,348.5 114.7,346.4 118.7,344.1 C122.7,341.9 127.7,339.6 132.2,337.6 C136.7,335.7 141.3,334.1 145.8,332.5 C150.3,330.9 153.9,329.5 159.3,327.9 C164.7,326.3 174.4,323.9 178.0,322.9 C181.6,321.9 180.0,322.3 181.0,322.0 C182.0,321.6 183.0,321.3 184.0,321.0 C185.0,320.7 186.0,320.4 187.0,320.1 C188.0,319.8 189.0,319.5 190.0,319.2 C191.0,318.9 192.0,318.6 193.0,318.3 C194.1,318.0 195.1,317.8 196.1,317.5 C197.1,317.2 198.1,316.9 199.1,316.6 C200.1,316.4 201.1,316.1 202.1,315.8 C203.1,315.6 204.1,315.3 205.1,315.0 C206.1,314.8 207.1,314.5 208.1,314.3 C209.1,314.0 210.1,313.7 211.1,313.5 C212.1,313.2 213.1,313.0 214.1,312.7 C215.1,312.5 216.1,312.2 217.1,312.0 C218.1,311.8 219.1,311.5 220.1,311.3 C221.1,311.0 222.1,310.8 223.1,310.6 C224.1,310.3 225.1,310.1 226.2,309.9 C227.2,309.6 228.2,309.4 229.2,309.2 C230.2,308.9 231.2,308.7 232.2,308.5 C233.2,308.2 234.2,308.0 235.2,307.8 C236.2,307.6 237.2,307.4 238.2,307.1 C239.2,306.9 240.2,306.7 241.2,306.5 C242.2,306.2 243.2,306.0 244.2,305.8 C245.2,305.6 246.2,305.4 247.2,305.1 C248.2,304.9 249.2,304.7 250.2,304.5 C251.2,304.3 252.2,304.0 253.2,303.8 C254.2,303.6 255.2,303.4 256.2,303.2 C257.3,303.0 258.3,302.7 259.3,302.5 C260.3,302.3 261.3,302.1 262.3,301.8 C263.3,301.6 264.3,301.4 265.3,301.2 C266.3,300.9 267.3,300.7 268.3,300.5 C269.3,300.2 270.3,300.0 271.3,299.7 C272.3,299.5 273.3,299.2 274.3,299.0 C275.3,298.7 276.3,298.5 277.3,298.2 C278.3,297.9 279.3,297.7 280.3,297.4 C281.3,297.1 282.3,296.8 283.3,296.6 C284.3,296.3 285.3,296.0 286.3,295.7 C287.3,295.4 288.4,295.1 289.4,294.8 C290.4,294.4 291.4,294.1 292.4,293.8 C293.4,293.5 294.4,293.2 295.4,292.8 C296.4,292.5 297.4,292.1 298.4,291.8 C299.4,291.5 300.4,291.1 301.4,290.7 C302.4,290.4 303.4,290.0 304.4,289.7 C305.4,289.3 306.4,288.9 307.4,288.5 C308.4,288.2 309.4,287.8 310.4,287.4 C311.4,287.0 312.4,286.6 313.4,286.2 C314.4,285.8 315.4,285.4 316.4,285.0 C317.4,284.6 318.4,284.2 319.4,283.8 C320.5,283.3 321.5,282.9 322.5,282.5 C323.5,282.0 324.5,281.6 325.5,281.2 C326.5,280.7 327.5,280.3 328.5,279.8 C329.5,279.4 330.5,278.9 331.5,278.5 C332.5,278.0 333.5,277.6 334.5,277.1 C335.5,276.6 336.5,276.1 337.5,275.7 C338.5,275.2 339.5,274.7 340.5,274.2 C341.5,273.7 342.5,273.2 343.5,272.7 C344.5,272.2 345.5,271.7 346.5,271.2 C347.5,270.7 348.5,270.2 349.5,269.7 C350.5,269.2 351.6,268.7 352.6,268.1 C353.6,267.6 354.6,267.1 355.6,266.6 C356.6,266.0 357.6,265.5 358.6,265.0 C359.6,264.4 360.6,263.9 361.6,263.3 C362.6,262.8 363.6,262.2 364.6,261.7 C365.6,261.1 366.6,260.6 367.6,260.0 C368.6,259.5 369.6,258.9 370.6,258.3 C371.6,257.8 372.6,257.2 373.6,256.6 C374.6,256.1 375.6,255.5 376.6,254.9 C377.6,254.4 378.6,253.8 379.6,253.2 C380.6,252.7 381.6,252.1 382.6,251.5 C383.7,250.9 384.7,250.4 385.7,249.8 C386.7,249.2 387.7,248.7 388.7,248.1 C389.7,247.5 390.7,246.9 391.7,246.4 C392.7,245.8 393.7,245.2 394.7,244.7 C395.7,244.1 396.7,243.5 397.7,243.0 C398.7,242.4 399.7,241.8 400.7,241.3 C401.7,240.7 402.7,240.2 403.7,239.6 C404.7,239.0 405.7,238.5 406.7,237.9 C407.7,237.4 408.7,236.8 409.7,236.3 C410.7,235.8 411.7,235.2 412.7,234.7 C413.7,234.1 414.8,233.6 415.8,233.1 C416.8,232.6 417.8,232.0 418.8,231.5 C419.8,231.0 420.8,230.5 421.8,230.0 C422.8,229.5 423.8,229.0 424.8,228.5 C425.8,228.0 426.8,227.5 427.8,227.0 C428.8,226.5 429.8,226.0 430.8,225.5 C431.8,225.1 432.8,224.6 433.8,224.1 C434.8,223.7 435.8,223.2 436.8,222.8 C437.8,222.3 438.8,221.9 439.8,221.5 C440.8,221.0 441.8,220.6 442.8,220.2 C443.8,219.8 444.8,219.4 445.9,219.0 C446.9,218.6 447.9,218.2 448.9,217.8 C449.9,217.4 450.9,217.0 451.9,216.7 C452.9,216.3 453.9,216.0 454.9,215.6 C455.9,215.3 456.9,214.9 457.9,214.6 C458.9,214.3 459.9,214.0 460.9,213.7 C461.9,213.4 462.9,213.1 463.9,212.8 C464.9,212.5 465.9,212.3 466.9,212.0 C467.9,211.7 468.9,211.5 469.9,211.3 C470.9,211.0 471.9,210.8 472.9,210.6 C473.9,210.4 474.9,210.2 475.9,210.0 C476.9,209.8 478.0,209.7 479.0,209.5 C480.0,209.3 481.0,209.2 482.0,209.1 C483.0,208.9 484.0,208.8 485.0,208.7 C486.0,208.6 487.0,208.5 488.0,208.5 C489.0,208.4 490.0,208.4 491.0,208.3 C492.0,208.3 493.0,208.3 494.0,208.2 C495.0,208.2 496.0,208.3 497.0,208.3 C498.0,208.3 499.0,208.4 500.0,208.4 C501.0,208.5 502.0,208.6 503.0,208.7 C504.0,208.7 505.0,208.9 506.0,209.0 C507.0,209.1 508.0,209.3 509.1,209.5 C510.1,209.6 511.1,209.8 512.1,210.0 C513.1,210.2 514.1,210.4 515.1,210.7 C516.1,210.9 517.1,211.2 518.1,211.5 C519.1,211.7 520.1,212.0 521.1,212.3 C522.1,212.6 523.1,213.0 524.1,213.3 C525.1,213.6 526.1,214.0 527.1,214.4 C528.1,214.7 529.1,215.1 530.1,215.5 C531.1,215.9 532.1,216.3 533.1,216.7 C534.1,217.2 535.1,217.6 536.1,218.0 C537.1,218.5 538.1,219.0 539.1,219.4 C540.1,219.9 541.2,220.4 542.2,220.9 C543.2,221.4 544.2,221.9 545.2,222.4 C546.2,222.9 547.2,223.5 548.2,224.0 C549.2,224.5 550.2,225.1 551.2,225.6 C552.2,226.2 553.2,226.7 554.2,227.3 C555.2,227.9 556.2,228.4 557.2,229.0 C558.2,229.6 559.2,230.2 560.2,230.8 C561.2,231.3 562.2,231.9 563.2,232.5 C564.2,233.1 565.2,233.7 566.2,234.3 C567.2,234.9 568.2,235.5 569.2,236.1 C570.2,236.7 571.2,237.3 572.3,237.9 C573.3,238.5 574.3,239.2 575.3,239.8 C576.3,240.4 577.3,241.0 578.3,241.6 C579.3,242.2 580.3,242.8 581.3,243.4 C582.3,244.0 583.3,244.6 584.3,245.2 C585.3,245.7 586.3,246.3 587.3,246.9 C588.3,247.5 589.3,248.1 590.3,248.7 C591.3,249.2 592.3,249.8 593.3,250.4 C594.3,250.9 595.3,251.5 596.3,252.0 C597.3,252.6 598.3,253.1 599.3,253.6 C600.3,254.2 601.3,254.7 602.3,255.2 C603.3,255.7 604.4,256.2 605.4,256.7 C606.4,257.2 607.4,257.7 608.4,258.2 C609.4,258.6 610.4,259.1 611.4,259.6 C612.4,260.0 613.4,260.5 614.4,260.9 C615.4,261.3 616.4,261.8 617.4,262.2 C618.4,262.6 619.4,263.0 620.4,263.4 C621.4,263.8 622.4,264.1 623.4,264.5 C624.4,264.9 625.4,265.2 626.4,265.6 C627.4,265.9 628.4,266.3 629.4,266.6 C630.4,266.9 631.4,267.2 632.4,267.5 C633.4,267.8 634.4,268.1 635.5,268.4 C636.5,268.7 637.5,268.9 638.5,269.2 C639.5,269.4 640.5,269.7 641.5,269.9 C642.5,270.2 643.5,270.4 644.5,270.6 C645.5,270.8 646.5,271.0 647.5,271.2 C648.5,271.4 649.5,271.6 650.5,271.8 C651.5,272.0 652.5,272.1 653.5,272.3 C654.5,272.5 655.5,272.6 656.5,272.8 C657.5,272.9 658.5,273.0 659.5,273.2 C660.5,273.3 661.5,273.4 662.5,273.5 C663.5,273.7 664.5,273.8 665.5,273.9 C666.6,274.0 667.6,274.1 668.6,274.1 C669.6,274.2 670.6,274.3 671.6,274.4 C672.6,274.5 673.6,274.5 674.6,274.6 C675.6,274.7 676.6,274.7 677.6,274.8 C678.6,274.8 679.6,274.9 680.6,274.9 C681.6,275.0 682.6,275.0 683.6,275.1 C684.6,275.1 685.6,275.1 686.6,275.2 C687.6,275.2 688.6,275.2 689.6,275.3 C690.6,275.3 691.6,275.3 692.6,275.4 C693.6,275.4 694.6,275.4 695.6,275.4 C696.6,275.5 697.6,275.5 698.7,275.5 C699.7,275.5 700.7,275.6 701.7,275.6 C702.7,275.6 703.7,275.6 704.7,275.7 C705.7,275.7 706.7,275.7 707.7,275.7 C708.7,275.8 709.7,275.8 710.7,275.8 C711.7,275.9 713.5,275.0 713.7,275.9 C713.9,276.9 712.4,278.0 711.6,281.3 C710.9,284.7 710.2,291.2 709.2,296.1 C708.2,301.0 707.1,305.9 705.7,310.7 C704.3,315.4 702.9,320.3 701.0,324.9 C699.0,329.4 696.8,334.0 694.0,338.1 C691.3,342.2 688.0,346.0 684.4,349.4 C680.8,352.9 676.8,356.0 672.6,358.6 C668.4,361.1 663.7,363.1 659.0,364.9 C654.4,366.8 649.5,368.2 644.7,369.5 C639.9,370.9 633.5,372.2 630.0,372.9 C626.5,373.6 625.5,373.5 624.0,373.8 C622.5,374.1 622.0,374.3 621.0,374.6 C620.0,374.9 619.0,375.1 618.0,375.4 C617.0,375.6 616.0,375.9 615.0,376.1 C614.0,376.4 613.0,376.6 612.0,376.8 C611.0,377.1 610.0,377.3 609.0,377.5 C608.0,377.8 607.0,378.0 606.0,378.2 C605.0,378.5 604.0,378.7 603.0,378.9 C602.0,379.1 601.0,379.3 600.0,379.6 C599.0,379.8 598.0,380.0 596.9,380.2 C595.9,380.4 594.9,380.7 593.9,380.9 C592.9,381.1 591.9,381.3 590.9,381.6 C589.9,381.8 588.9,382.0 587.9,382.2 C586.9,382.5 585.9,382.7 584.9,382.9 C583.9,383.1 582.9,383.4 581.9,383.6 C580.9,383.9 579.9,384.1 578.9,384.3 C577.9,384.6 576.9,384.8 575.9,385.1 C574.9,385.4 573.9,385.6 572.9,385.9 C571.9,386.1 570.9,386.4 569.9,386.7 C568.9,387.0 567.9,387.3 566.9,387.5 C565.9,387.8 564.9,388.1 563.9,388.4 C562.9,388.7 561.9,389.1 560.9,389.4 C559.9,389.7 558.9,390.0 557.9,390.4 C556.9,390.7 555.9,391.1 554.9,391.4 C553.9,391.8 552.9,392.1 551.9,392.5 C550.9,392.9 549.9,393.3 548.9,393.7 C547.9,394.1 546.9,394.5 545.9,394.9 C544.9,395.3 543.9,395.7 542.8,396.1 C541.8,396.5 540.8,397.0 539.8,397.4 C538.8,397.9 537.8,398.3 536.8,398.8 C535.8,399.2 534.8,399.7 533.8,400.1 C532.8,400.6 531.8,401.1 530.8,401.5 C529.8,402.0 528.8,402.5 527.8,403.0 C526.8,403.5 525.8,404.0 524.8,404.5 C523.8,405.0 522.8,405.5 521.8,406.0 C520.8,406.5 519.8,407.1 518.8,407.6 C517.8,408.1 516.8,408.6 515.8,409.2 C514.8,409.7 513.8,410.2 512.8,410.8 C511.8,411.3 510.8,411.9 509.8,412.4 C508.8,413.0 507.8,413.5 506.8,414.1 C505.8,414.6 504.8,415.2 503.8,415.8 C502.8,416.3 501.8,416.9 500.8,417.5 C499.8,418.0 498.8,418.6 497.8,419.2 C496.8,419.7 495.8,420.3 494.8,420.9 C493.8,421.5 492.8,422.1 491.8,422.7 C490.8,423.2 489.8,423.8 488.7,424.4 C487.7,425.0 486.7,425.6 485.7,426.2 C484.7,426.8 483.7,427.4 482.7,428.0 C481.7,428.5 480.7,429.1 479.7,429.7 C478.7,430.3 477.7,430.9 476.7,431.5 C475.7,432.1 474.7,432.7 473.7,433.3 C472.7,433.9 471.7,434.5 470.7,435.1 C469.7,435.7 468.7,436.2 467.7,436.8 C466.7,437.4 465.7,438.0 464.7,438.6 C463.7,439.2 462.7,439.8 461.7,440.4 C460.7,440.9 459.7,441.5 458.7,442.1 C457.7,442.7 456.7,443.3 455.7,443.8 C454.7,444.4 453.7,445.0 452.7,445.5 C451.7,446.1 450.7,446.7 449.7,447.2 C448.7,447.8 447.7,448.4 446.7,448.9 C445.7,449.5 444.7,450.0 443.7,450.6 C442.7,451.1 441.7,451.6 440.7,452.2 C439.7,452.7 438.7,453.3 437.7,453.8 C436.7,454.3 435.6,454.8 434.6,455.3 C433.6,455.9 432.6,456.4 431.6,456.9 C430.6,457.4 429.6,457.9 428.6,458.4 C427.6,458.9 426.6,459.4 425.6,459.9 C424.6,460.4 423.6,460.9 422.6,461.4 C421.6,461.8 420.6,462.3 419.6,462.8 C418.6,463.3 417.6,463.7 416.6,464.2 C415.6,464.7 414.6,465.1 413.6,465.6 C412.6,466.1 411.6,466.5 410.6,467.0 C409.6,467.4 408.6,467.9 407.6,468.3 C406.6,468.8 405.6,469.2 404.6,469.7 C403.6,470.1 402.6,470.5 401.6,471.0 C400.6,471.4 399.6,471.8 398.6,472.2 C397.6,472.7 396.6,473.1 395.6,473.5 C394.6,473.9 393.6,474.3 392.6,474.8 C391.6,475.2 390.6,475.6 389.6,476.0 C388.6,476.4 387.6,476.8 386.6,477.2 C385.6,477.6 384.6,478.0 383.6,478.4 C382.6,478.8 381.5,479.2 380.5,479.6 C379.5,480.0 378.5,480.4 377.5,480.7 C376.5,481.1 375.5,481.5 374.5,481.9 C373.5,482.3 372.5,482.6 371.5,483.0 C370.5,483.4 369.5,483.7 368.5,484.1 C367.5,484.4 366.5,484.8 365.5,485.1 C364.5,485.5 363.5,485.8 362.5,486.1 C361.5,486.4 360.5,486.8 359.5,487.1 C358.5,487.4 357.5,487.7 356.5,488.0 C355.5,488.2 354.5,488.5 353.5,488.8 C352.5,489.0 351.5,489.3 350.5,489.5 C349.5,489.8 348.5,490.0 347.5,490.2 C346.5,490.4 345.5,490.6 344.5,490.8 C343.5,491.0 342.5,491.2 341.5,491.3 C340.5,491.5 339.5,491.6 338.5,491.7 C337.5,491.9 336.5,492.0 335.5,492.1 C334.5,492.1 333.5,492.2 332.5,492.3 C331.5,492.3 330.5,492.4 329.5,492.4 C328.5,492.4 327.4,492.4 326.4,492.4 C325.4,492.4 324.4,492.3 323.4,492.3 C322.4,492.2 321.4,492.2 320.4,492.1 C319.4,492.0 318.4,491.9 317.4,491.8 C316.4,491.7 315.4,491.6 314.4,491.5 C313.4,491.3 312.4,491.2 311.4,491.0 C310.4,490.8 309.4,490.7 308.4,490.5 C307.4,490.3 306.4,490.1 305.4,489.9 C304.4,489.7 303.4,489.4 302.4,489.2 C301.4,488.9 300.4,488.7 299.4,488.4 C298.4,488.2 297.4,487.9 296.4,487.6 C295.4,487.3 294.4,487.0 293.4,486.7 C292.4,486.4 291.4,486.1 290.4,485.8 C289.4,485.5 288.4,485.1 287.4,484.8 C286.4,484.5 285.4,484.1 284.4,483.8 C283.4,483.4 282.4,483.0 281.4,482.7 C280.4,482.3 279.4,481.9 278.4,481.5 C277.4,481.2 276.4,480.8 275.4,480.4 C274.4,480.0 273.3,479.6 272.3,479.1 C271.3,478.7 270.3,478.3 269.3,477.9 C268.3,477.5 267.3,477.1 266.3,476.6 C265.3,476.2 264.3,475.8 263.3,475.3 C262.3,474.9 261.3,474.4 260.3,474.0 C259.3,473.6 258.3,473.1 257.3,472.7 C256.3,472.2 255.3,471.8 254.3,471.3 C253.3,470.8 252.3,470.4 251.3,469.9 C250.3,469.5 249.3,469.0 248.3,468.5 C247.3,468.1 246.3,467.6 245.3,467.2 C244.3,466.7 243.3,466.2 242.3,465.8 C241.3,465.3 240.3,464.8 239.3,464.4 C238.3,463.9 237.3,463.5 236.3,463.0 C235.3,462.5 234.3,462.1 233.3,461.6 C232.3,461.2 231.3,460.7 230.3,460.2 C229.3,459.8 228.3,459.3 227.3,458.9 C226.3,458.5 225.3,458.0 224.3,457.6 C223.3,457.1 222.3,456.7 221.3,456.3 C220.2,455.8 219.2,455.4 218.2,455.0 C217.2,454.5 216.2,454.1 215.2,453.7 C214.2,453.3 213.2,452.9 212.2,452.5 C211.2,452.1 210.2,451.7 209.2,451.3 C208.2,450.9 207.2,450.5 206.2,450.1 C205.2,449.7 204.2,449.4 203.2,449.0 C202.2,448.6 201.2,448.3 200.2,447.9 C199.2,447.6 198.2,447.3 197.2,446.9 C196.2,446.6 195.2,446.3 194.2,446.0 C193.2,445.6 192.2,445.3 191.2,445.0 C190.2,444.7 189.2,444.5 188.2,444.2 C187.2,443.9 186.2,443.6 185.2,443.4 C184.2,443.1 183.2,442.9 182.2,442.7 C181.2,442.4 180.2,442.2 179.2,442.0 C178.2,441.8 177.2,441.5 176.2,441.3 C175.2,441.1 174.2,440.9 173.2,440.8 C172.2,440.6 171.2,440.4 170.2,440.2 C169.2,440.1 168.2,439.9 167.2,439.7 C166.1,439.6 165.1,439.4 164.1,439.3 C163.1,439.2 162.1,439.0 161.1,438.9 C160.1,438.8 159.1,438.7 158.1,438.5 C157.1,438.4 156.1,438.3 155.1,438.2 C154.1,438.1 153.1,438.0 152.1,437.9 C151.1,437.8 150.1,437.7 149.1,437.7 C148.1,437.6 147.1,437.5 146.1,437.4 C145.1,437.3 144.1,437.3 143.1,437.2 C142.1,437.1 141.1,437.1 140.1,437.0 C139.1,437.0 138.1,436.9 137.1,436.9 C136.1,436.8 135.1,436.8 134.1,436.7 C133.1,436.7 132.1,436.6 131.1,436.6 C130.1,436.5 129.1,436.5 128.1,436.5 C127.1,436.4 126.1,436.4 125.1,436.4 C124.1,436.3 123.1,436.3 122.1,436.3 C121.1,436.2 120.1,436.2 119.1,436.2 C118.1,436.1 117.1,436.1 116.1,436.1 C115.1,436.1 114.1,436.0 113.1,436.0 C112.0,436.0 111.0,435.9 110.0,435.9 C109.0,435.9 108.0,435.9 107.0,435.8 C106.0,435.8 105.0,435.8 104.0,435.7 C103.0,435.7 102.0,435.7 101.0,435.6 C100.0,435.6 99.0,435.6 98.0,435.5 C97.0,435.5 96.0,435.4 95.0,435.4 C94.0,435.4 93.0,435.3 92.0,435.3 C91.0,435.2 90.0,435.2 89.0,435.1 C88.0,435.0 86.5,434.9 86.0,434.9"/>
<path d="M87.8,397.9 C88.3,395.1 89.6,385.9 90.7,381.3 C91.9,376.8 93.2,373.9 94.8,370.5 C96.4,367.1 97.9,364.0 100.2,361.0 C102.5,357.9 105.4,354.7 108.5,352.1 C111.6,349.4 114.8,347.4 118.7,345.1 C122.6,342.8 127.7,340.3 132.2,338.3 C136.7,336.3 141.3,334.6 145.8,332.9 C150.3,331.2 153.9,329.7 159.3,328.2 C164.7,326.7 174.4,324.8 178.0,323.9 C181.6,323.0 180.0,323.3 181.0,323.0 C182.0,322.7 183.0,322.5 184.0,322.2 C185.0,321.9 186.0,321.7 187.0,321.4 C188.0,321.2 189.0,320.9 190.0,320.7 C191.0,320.4 192.0,320.2 193.0,320.0 C194.0,319.8 195.0,319.6 196.1,319.3 C197.1,319.1 198.1,318.9 199.1,318.7 C200.1,318.5 201.1,318.3 202.1,318.2 C203.1,318.0 204.1,317.8 205.1,317.6 C206.1,317.4 207.1,317.3 208.1,317.1 C209.1,316.9 210.1,316.8 211.1,316.6 C212.1,316.5 213.1,316.3 214.1,316.2 C215.1,316.0 216.1,315.9 217.1,315.8 C218.1,315.6 219.1,315.5 220.1,315.4 C221.1,315.2 222.1,315.1 223.1,315.0 C224.1,314.9 225.1,314.8 226.1,314.6 C227.1,314.5 228.1,314.4 229.1,314.3 C230.1,314.2 231.1,314.1 232.2,314.0 C233.2,313.9 234.2,313.8 235.2,313.7 C236.2,313.6 237.2,313.5 238.2,313.4 C239.2,313.3 240.2,313.2 241.2,313.1 C242.2,313.0 243.2,312.9 244.2,312.8 C245.2,312.7 246.2,312.6 247.2,312.5 C248.2,312.4 249.2,312.4 250.2,312.3 C251.2,312.2 252.2,312.1 253.2,312.0 C254.2,311.9 255.2,311.8 256.2,311.7 C257.2,311.6 258.2,311.5 259.2,311.5 C260.2,311.4 261.2,311.3 262.2,311.2 C263.2,311.1 264.2,311.0 265.2,310.9 C266.2,310.8 267.2,310.7 268.3,310.6 C269.3,310.5 270.3,310.4 271.3,310.3 C272.3,310.2 273.3,310.1 274.3,310.0 C275.3,309.9 276.3,309.7 277.3,309.6 C278.3,309.5 279.3,309.4 280.3,309.3 C281.3,309.2 282.3,309.0 283.3,308.9 C284.3,308.8 285.3,308.6 286.3,308.5 C287.3,308.4 288.3,308.2 289.3,308.1 C290.3,307.9 291.3,307.8 292.3,307.6 C293.3,307.5 294.3,307.3 295.3,307.2 C296.3,307.0 297.3,306.9 298.3,306.7 C299.3,306.5 300.3,306.3 301.3,306.2 C302.3,306.0 303.4,305.8 304.4,305.6 C305.4,305.5 306.4,305.3 307.4,305.1 C308.4,304.9 309.4,304.7 310.4,304.5 C311.4,304.3 312.4,304.1 313.4,303.9 C314.4,303.7 315.4,303.5 316.4,303.3 C317.4,303.1 318.4,302.9 319.4,302.7 C320.4,302.4 321.4,302.2 322.4,302.0 C323.4,301.8 324.4,301.6 325.4,301.3 C326.4,301.1 327.4,300.9 328.4,300.7 C329.4,300.4 330.4,300.2 331.4,300.0 C332.4,299.7 333.4,299.5 334.4,299.2 C335.4,299.0 336.4,298.8 337.4,298.5 C338.4,298.3 339.5,298.0 340.5,297.8 C341.5,297.5 342.5,297.3 343.5,297.0 C344.5,296.8 345.5,296.5 346.5,296.2 C347.5,296.0 348.5,295.7 349.5,295.5 C350.5,295.2 351.5,294.9 352.5,294.7 C353.5,294.4 354.5,294.1 355.5,293.9 C356.5,293.6 357.5,293.3 358.5,293.1 C359.5,292.8 360.5,292.5 361.5,292.2 C362.5,292.0 363.5,291.7 364.5,291.4 C365.5,291.1 366.5,290.9 367.5,290.6 C368.5,290.3 369.5,290.0 370.5,289.8 C371.5,289.5 372.5,289.2 373.5,288.9 C374.6,288.6 375.6,288.3 376.6,288.1 C377.6,287.8 378.6,287.5 379.6,287.2 C380.6,286.9 381.6,286.6 382.6,286.3 C383.6,286.1 384.6,285.8 385.6,285.5 C386.6,285.2 387.6,284.9 388.6,284.6 C389.6,284.3 390.6,284.1 391.6,283.8 C392.6,283.5 393.6,283.2 394.6,282.9 C395.6,282.6 396.6,282.3 397.6,282.0 C398.6,281.7 399.6,281.5 400.6,281.2 C401.6,280.9 402.6,280.6 403.6,280.3 C404.6,280.0 405.6,279.7 406.6,279.4 C407.6,279.2 408.6,278.9 409.6,278.6 C410.7,278.3 411.7,278.0 412.7,277.7 C413.7,277.4 414.7,277.2 415.7,276.9 C416.7,276.6 417.7,276.3 418.7,276.0 C419.7,275.8 420.7,275.5 421.7,275.2 C422.7,274.9 423.7,274.6 424.7,274.4 C425.7,274.1 426.7,273.8 427.7,273.5 C428.7,273.3 429.7,273.0 430.7,272.7 C431.7,272.4 432.7,272.2 433.7,271.9 C434.7,271.6 435.7,271.4 436.7,271.1 C437.7,270.8 438.7,270.6 439.7,270.3 C440.7,270.0 441.7,269.8 442.7,269.5 C443.7,269.3 444.7,269.0 445.8,268.8 C446.8,268.5 447.8,268.3 448.8,268.0 C449.8,267.8 450.8,267.6 451.8,267.3 C452.8,267.1 453.8,266.9 454.8,266.6 C455.8,266.4 456.8,266.2 457.8,266.0 C458.8,265.8 459.8,265.6 460.8,265.4 C461.8,265.1 462.8,264.9 463.8,264.8 C464.8,264.6 465.8,264.4 466.8,264.2 C467.8,264.0 468.8,263.8 469.8,263.7 C470.8,263.5 471.8,263.3 472.8,263.2 C473.8,263.0 474.8,262.9 475.8,262.7 C476.8,262.6 477.8,262.4 478.8,262.3 C479.8,262.2 480.8,262.1 481.9,262.0 C482.9,261.8 483.9,261.7 484.9,261.6 C485.9,261.6 486.9,261.5 487.9,261.4 C488.9,261.3 489.9,261.2 490.9,261.2 C491.9,261.1 492.9,261.1 493.9,261.0 C494.9,261.0 495.9,261.0 496.9,260.9 C497.9,260.9 498.9,260.9 499.9,260.9 C500.9,260.9 501.9,260.9 502.9,260.9 C503.9,261.0 504.9,261.0 505.9,261.0 C506.9,261.1 507.9,261.1 508.9,261.2 C509.9,261.2 510.9,261.3 511.9,261.3 C512.9,261.4 513.9,261.5 514.9,261.6 C515.9,261.7 516.9,261.8 518.0,261.9 C519.0,262.0 520.0,262.1 521.0,262.2 C522.0,262.3 523.0,262.4 524.0,262.6 C525.0,262.7 526.0,262.8 527.0,263.0 C528.0,263.1 529.0,263.2 530.0,263.4 C531.0,263.6 532.0,263.7 533.0,263.9 C534.0,264.0 535.0,264.2 536.0,264.4 C537.0,264.6 538.0,264.7 539.0,264.9 C540.0,265.1 541.0,265.3 542.0,265.5 C543.0,265.7 544.0,265.9 545.0,266.1 C546.0,266.3 547.0,266.5 548.0,266.7 C549.0,266.9 550.0,267.1 551.0,267.3 C552.0,267.5 553.1,267.7 554.1,268.0 C555.1,268.2 556.1,268.4 557.1,268.6 C558.1,268.8 559.1,269.1 560.1,269.3 C561.1,269.5 562.1,269.8 563.1,270.0 C564.1,270.2 565.1,270.4 566.1,270.7 C567.1,270.9 568.1,271.1 569.1,271.4 C570.1,271.6 571.1,271.8 572.1,272.1 C573.1,272.3 574.1,272.5 575.1,272.7 C576.1,273.0 577.1,273.2 578.1,273.4 C579.1,273.7 580.1,273.9 581.1,274.1 C582.1,274.3 583.1,274.6 584.1,274.8 C585.1,275.0 586.1,275.2 587.1,275.5 C588.1,275.7 589.2,275.9 590.2,276.1 C591.2,276.3 592.2,276.6 593.2,276.8 C594.2,277.0 595.2,277.2 596.2,277.4 C597.2,277.6 598.2,277.8 599.2,278.1 C600.2,278.3 601.2,278.5 602.2,278.7 C603.2,278.9 604.2,279.1 605.2,279.3 C606.2,279.5 607.2,279.7 608.2,279.9 C609.2,280.1 610.2,280.3 611.2,280.4 C612.2,280.6 613.2,280.8 614.2,281.0 C615.2,281.2 616.2,281.4 617.2,281.6 C618.2,281.7 619.2,281.9 620.2,282.1 C621.2,282.3 622.2,282.4 623.2,282.6 C624.2,282.8 625.3,282.9 626.3,283.1 C627.3,283.3 628.3,283.4 629.3,283.6 C630.3,283.7 631.3,283.9 632.3,284.0 C633.3,284.2 634.3,284.3 635.3,284.5 C636.3,284.6 637.3,284.8 638.3,284.9 C639.3,285.0 640.3,285.2 641.3,285.3 C642.3,285.4 643.3,285.6 644.3,285.7 C645.3,285.8 646.3,285.9 647.3,286.0 C648.3,286.1 649.3,286.3 650.3,286.4 C651.3,286.5 652.3,286.6 653.3,286.7 C654.3,286.8 655.3,286.9 656.3,286.9 C657.3,287.0 658.3,287.1 659.3,287.2 C660.4,287.3 661.4,287.3 662.4,287.4 C663.4,287.5 664.4,287.5 665.4,287.6 C666.4,287.7 667.4,287.7 668.4,287.8 C669.4,287.8 670.4,287.9 671.4,287.9 C672.4,288.0 673.4,288.0 674.4,288.0 C675.4,288.1 676.4,288.1 677.4,288.1 C678.4,288.1 679.4,288.1 680.4,288.1 C681.4,288.2 682.4,288.2 683.4,288.2 C684.4,288.2 685.4,288.2 686.4,288.1 C687.4,288.1 688.4,288.1 689.4,288.1 C690.4,288.1 691.4,288.0 692.4,288.0 C693.4,288.0 694.4,287.9 695.4,287.9 C696.5,287.8 697.5,287.8 698.5,287.7 C699.5,287.7 700.5,287.6 701.5,287.5 C702.5,287.4 703.5,287.4 704.5,287.3 C705.5,287.2 706.5,287.1 707.5,287.0 C708.5,286.9 709.5,286.8 710.5,286.7 C711.5,286.6 713.9,284.8 713.5,286.3 C713.1,287.8 709.8,291.7 708.3,295.7 C706.8,299.7 706.0,305.4 704.7,310.1 C703.3,314.9 701.9,319.7 699.9,324.2 C698.0,328.8 695.9,333.3 693.2,337.4 C690.5,341.5 687.4,345.5 683.9,348.9 C680.4,352.3 676.4,355.4 672.2,358.0 C668.1,360.7 663.5,362.8 658.9,364.7 C654.3,366.6 649.5,368.0 644.7,369.3 C639.8,370.7 633.4,372.1 630.0,372.6 C626.6,373.1 625.5,372.3 624.0,372.3 C622.5,372.3 622.0,372.6 621.0,372.7 C620.0,372.8 619.0,372.9 618.0,373.0 C617.0,373.2 616.0,373.3 615.0,373.4 C614.0,373.5 613.0,373.6 612.0,373.7 C611.0,373.8 609.9,374.0 608.9,374.1 C607.9,374.2 606.9,374.3 605.9,374.4 C604.9,374.5 603.9,374.6 602.9,374.8 C601.9,374.9 600.9,375.0 599.9,375.1 C598.9,375.2 597.9,375.3 596.9,375.5 C595.9,375.6 594.9,375.7 593.9,375.8 C592.9,375.9 591.9,376.1 590.9,376.2 C589.9,376.3 588.9,376.4 587.9,376.6 C586.9,376.7 585.9,376.9 584.9,377.0 C583.9,377.1 582.8,377.3 581.8,377.4 C580.8,377.6 579.8,377.7 578.8,377.9 C577.8,378.0 576.8,378.2 575.8,378.3 C574.8,378.5 573.8,378.7 572.8,378.8 C571.8,379.0 570.8,379.2 569.8,379.4 C568.8,379.6 567.8,379.8 566.8,379.9 C565.8,380.1 564.8,380.3 563.8,380.5 C562.8,380.8 561.8,381.0 560.8,381.2 C559.8,381.4 558.8,381.6 557.8,381.9 C556.8,382.1 555.7,382.3 554.7,382.6 C553.7,382.8 552.7,383.1 551.7,383.4 C550.7,383.6 549.7,383.9 548.7,384.2 C547.7,384.4 546.7,384.7 545.7,385.0 C544.7,385.3 543.7,385.6 542.7,385.9 C541.7,386.3 540.7,386.6 539.7,386.9 C538.7,387.2 537.7,387.6 536.7,387.9 C535.7,388.3 534.7,388.6 533.7,389.0 C532.7,389.3 531.7,389.7 530.7,390.1 C529.6,390.4 528.6,390.8 527.6,391.2 C526.6,391.6 525.6,392.0 524.6,392.3 C523.6,392.7 522.6,393.1 521.6,393.5 C520.6,393.9 519.6,394.3 518.6,394.7 C517.6,395.1 516.6,395.5 515.6,395.9 C514.6,396.3 513.6,396.7 512.6,397.0 C511.6,397.4 510.6,397.8 509.6,398.2 C508.6,398.6 507.6,399.0 506.6,399.4 C505.6,399.8 504.6,400.2 503.6,400.6 C502.5,401.0 501.5,401.3 500.5,401.7 C499.5,402.1 498.5,402.5 497.5,402.9 C496.5,403.2 495.5,403.6 494.5,404.0 C493.5,404.4 492.5,404.7 491.5,405.1 C490.5,405.5 489.5,405.8 488.5,406.2 C487.5,406.5 486.5,406.9 485.5,407.2 C484.5,407.6 483.5,407.9 482.5,408.3 C481.5,408.6 480.5,409.0 479.5,409.3 C478.5,409.7 477.5,410.0 476.5,410.3 C475.4,410.7 474.4,411.0 473.4,411.3 C472.4,411.6 471.4,412.0 470.4,412.3 C469.4,412.6 468.4,412.9 467.4,413.2 C466.4,413.5 465.4,413.8 464.4,414.1 C463.4,414.4 462.4,414.7 461.4,415.0 C460.4,415.3 459.4,415.6 458.4,415.9 C457.4,416.2 456.4,416.5 455.4,416.8 C454.4,417.0 453.4,417.3 452.4,417.6 C451.4,417.8 450.4,418.1 449.4,418.4 C448.3,418.6 447.3,418.9 446.3,419.1 C445.3,419.4 444.3,419.6 443.3,419.9 C442.3,420.1 441.3,420.4 440.3,420.6 C439.3,420.8 438.3,421.1 437.3,421.3 C436.3,421.5 435.3,421.7 434.3,422.0 C433.3,422.2 432.3,422.4 431.3,422.6 C430.3,422.8 429.3,423.0 428.3,423.2 C427.3,423.4 426.3,423.6 425.3,423.8 C424.3,424.0 423.3,424.2 422.3,424.3 C421.2,424.5 420.2,424.7 419.2,424.9 C418.2,425.1 417.2,425.2 416.2,425.4 C415.2,425.6 414.2,425.7 413.2,425.9 C412.2,426.1 411.2,426.2 410.2,426.4 C409.2,426.5 408.2,426.7 407.2,426.8 C406.2,427.0 405.2,427.1 404.2,427.3 C403.2,427.4 402.2,427.6 401.2,427.7 C400.2,427.9 399.2,428.0 398.2,428.1 C397.2,428.3 396.2,428.4 395.2,428.5 C394.1,428.6 393.1,428.8 392.1,428.9 C391.1,429.0 390.1,429.1 389.1,429.3 C388.1,429.4 387.1,429.5 386.1,429.6 C385.1,429.7 384.1,429.8 383.1,429.9 C382.1,430.1 381.1,430.2 380.1,430.3 C379.1,430.4 378.1,430.5 377.1,430.6 C376.1,430.7 375.1,430.8 374.1,430.9 C373.1,430.9 372.1,431.0 371.1,431.1 C370.1,431.2 369.1,431.3 368.1,431.4 C367.0,431.5 366.0,431.5 365.0,431.6 C364.0,431.7 363.0,431.7 362.0,431.8 C361.0,431.9 360.0,431.9 359.0,432.0 C358.0,432.1 357.0,432.1 356.0,432.2 C355.0,432.2 354.0,432.3 353.0,432.3 C352.0,432.4 351.0,432.4 350.0,432.4 C349.0,432.5 348.0,432.5 347.0,432.5 C346.0,432.6 345.0,432.6 344.0,432.6 C343.0,432.7 342.0,432.7 340.9,432.7 C339.9,432.7 338.9,432.7 337.9,432.7 C336.9,432.7 335.9,432.7 334.9,432.7 C333.9,432.7 332.9,432.7 331.9,432.7 C330.9,432.7 329.9,432.7 328.9,432.7 C327.9,432.6 326.9,432.6 325.9,432.6 C324.9,432.6 323.9,432.5 322.9,432.5 C321.9,432.4 320.9,432.4 319.9,432.4 C318.9,432.3 317.9,432.3 316.9,432.2 C315.9,432.1 314.9,432.1 313.8,432.0 C312.8,431.9 311.8,431.9 310.8,431.8 C309.8,431.7 308.8,431.6 307.8,431.5 C306.8,431.5 305.8,431.4 304.8,431.3 C303.8,431.2 302.8,431.1 301.8,431.0 C300.8,430.8 299.8,430.7 298.8,430.6 C297.8,430.5 296.8,430.4 295.8,430.2 C294.8,430.1 293.8,430.0 292.8,429.9 C291.8,429.7 290.8,429.6 289.8,429.4 C288.8,429.3 287.8,429.2 286.7,429.0 C285.7,428.9 284.7,428.7 283.7,428.6 C282.7,428.4 281.7,428.3 280.7,428.1 C279.7,427.9 278.7,427.8 277.7,427.6 C276.7,427.5 275.7,427.3 274.7,427.1 C273.7,427.0 272.7,426.8 271.7,426.6 C270.7,426.4 269.7,426.3 268.7,426.1 C267.7,425.9 266.7,425.7 265.7,425.6 C264.7,425.4 263.7,425.2 262.7,425.0 C261.7,424.9 260.7,424.7 259.6,424.5 C258.6,424.3 257.6,424.1 256.6,424.0 C255.6,423.8 254.6,423.6 253.6,423.4 C252.6,423.2 251.6,423.1 250.6,422.9 C249.6,422.7 248.6,422.5 247.6,422.3 C246.6,422.2 245.6,422.0 244.6,421.8 C243.6,421.6 242.6,421.5 241.6,421.3 C240.6,421.1 239.6,421.0 238.6,420.8 C237.6,420.6 236.6,420.4 235.6,420.3 C234.6,420.1 233.6,420.0 232.5,419.8 C231.5,419.6 230.5,419.5 229.5,419.3 C228.5,419.2 227.5,419.0 226.5,418.9 C225.5,418.7 224.5,418.6 223.5,418.4 C222.5,418.3 221.5,418.1 220.5,418.0 C219.5,417.8 218.5,417.7 217.5,417.6 C216.5,417.4 215.5,417.3 214.5,417.2 C213.5,417.1 212.5,416.9 211.5,416.8 C210.5,416.7 209.5,416.6 208.5,416.5 C207.5,416.4 206.5,416.3 205.4,416.2 C204.4,416.0 203.4,415.9 202.4,415.8 C201.4,415.7 200.4,415.7 199.4,415.6 C198.4,415.5 197.4,415.4 196.4,415.3 C195.4,415.2 194.4,415.1 193.4,415.0 C192.4,415.0 191.4,414.9 190.4,414.8 C189.4,414.7 188.4,414.7 187.4,414.6 C186.4,414.5 185.4,414.5 184.4,414.4 C183.4,414.4 182.4,414.3 181.4,414.3 C180.4,414.2 179.4,414.2 178.3,414.1 C177.3,414.1 176.3,414.0 175.3,414.0 C174.3,413.9 173.3,413.9 172.3,413.9 C171.3,413.8 170.3,413.8 169.3,413.8 C168.3,413.8 167.3,413.8 166.3,413.7 C165.3,413.7 164.3,413.7 163.3,413.7 C162.3,413.7 161.3,413.7 160.3,413.7 C159.3,413.7 158.3,413.7 157.3,413.7 C156.3,413.7 155.3,413.7 154.3,413.7 C153.3,413.7 152.2,413.7 151.2,413.8 C150.2,413.8 149.2,413.8 148.2,413.8 C147.2,413.8 146.2,413.9 145.2,413.9 C144.2,413.9 143.2,414.0 142.2,414.0 C141.2,414.1 140.2,414.1 139.2,414.2 C138.2,414.2 137.2,414.3 136.2,414.3 C135.2,414.4 134.2,414.4 133.2,414.5 C132.2,414.6 131.2,414.6 130.2,414.7 C129.2,414.8 128.2,414.9 127.2,414.9 C126.2,415.0 125.1,415.1 124.1,415.2 C123.1,415.3 122.1,415.4 121.1,415.5 C120.1,415.6 119.1,415.6 118.1,415.8 C117.1,415.9 116.1,416.0 115.1,416.1 C114.1,416.2 113.1,416.3 112.1,416.4 C111.1,416.5 110.1,416.7 109.1,416.8 C108.1,416.9 107.1,417.0 106.1,417.2 C105.1,417.3 104.1,417.4 103.1,417.6 C102.1,417.7 101.1,417.9 100.1,418.0 C99.1,418.2 98.0,418.3 97.0,418.5 C96.0,418.6 95.0,418.8 94.0,419.0 C93.0,419.1 92.0,419.3 91.0,419.5 C90.0,419.7 89.0,419.8 88.0,420.0 C87.0,420.2 85.5,420.5 85.0,420.6"/>
</g>
<path d="M716.0,250.4 C716.0,253.7 716.0,264.0 716.0,270.0 C716.0,276.0 716.1,281.1 715.8,286.6 C715.5,292.1 715.2,297.7 714.2,303.2 C713.2,308.7 711.8,314.2 710.0,319.7 C708.2,325.2 706.4,331.3 703.4,336.3 C700.4,341.3 696.2,345.7 691.8,349.9 C687.4,354.1 683.2,358.2 676.8,361.6 C670.4,365.0 661.0,367.9 653.2,370.2 C645.4,372.5 633.9,374.7 630.0,375.6 L630.0,371.6 C633.9,370.7 645.5,368.8 653.2,366.0 C660.9,363.2 670.3,358.7 676.4,354.6 C682.5,350.5 686.1,346.0 689.7,341.3 C693.3,336.6 695.5,332.2 698.0,326.4 C700.5,320.6 702.8,312.9 704.6,306.5 C706.4,300.1 707.8,293.4 708.8,288.2 C709.8,282.9 709.9,279.4 710.4,275.0 C710.9,270.6 711.2,266.0 711.6,262.0 C712.0,258.0 712.4,253.0 712.6,251.2 Z" fill="#000"/>
<path d="M87.5,397.9 C87.4,394.4 86.3,382.4 86.8,376.9 C87.2,371.4 88.7,368.3 90.2,364.7 C91.7,361.1 93.1,358.2 95.6,355.2 C98.1,352.1 101.2,349.1 105.1,346.4 C108.9,343.7 114.2,341.1 118.7,339.0 C123.2,336.9 127.7,335.2 132.2,333.6 C136.7,332.0 141.3,330.9 145.8,329.5 C150.3,328.1 153.9,327.0 159.3,325.4 C164.7,323.8 174.9,320.9 178.0,320.0 L178.0,324.1 C174.9,325.0 164.7,327.8 159.3,329.5 C153.9,331.2 150.3,332.5 145.8,334.2 C141.3,335.9 136.7,337.6 132.2,339.6 C127.7,341.6 122.5,344.1 118.7,346.4 C114.9,348.7 112.2,350.6 109.2,353.2 C106.2,355.8 103.3,358.9 101.0,362.0 C98.7,365.1 97.2,368.1 95.6,371.5 C94.0,374.9 92.8,377.9 91.6,382.3 C90.4,386.7 88.8,395.3 88.2,397.9 Z" fill="#000"/>
<g stroke="#000" stroke-width="2" fill="none"><line x1="84.0" y1="73.5" x2="84.0" y2="587.4"/><line x1="83.0" y1="579.5" x2="713.6" y2="579.5"/><line x1="75.8" y1="104.9" x2="84.0" y2="104.9"/><line x1="77.6" y1="144.4" x2="84.0" y2="144.4"/><line x1="75.8" y1="184.0" x2="84.0" y2="184.0"/><line x1="77.6" y1="223.3" x2="84.0" y2="223.3"/><line x1="75.8" y1="262.6" x2="84.0" y2="262.6"/><line x1="77.6" y1="302.1" x2="84.0" y2="302.1"/><line x1="75.8" y1="341.6" x2="84.0" y2="341.6"/><line x1="77.6" y1="381.5" x2="84.0" y2="381.5"/><line x1="75.8" y1="421.3" x2="84.0" y2="421.3"/><line x1="77.6" y1="461.1" x2="84.0" y2="461.1"/><line x1="75.8" y1="500.9" x2="84.0" y2="500.9"/><line x1="77.6" y1="540.2" x2="84.0" y2="540.2"/><line x1="75.8" y1="579.5" x2="84.0" y2="579.5"/><line x1="84.0" y1="579.5" x2="84.0" y2="587.4"/><line x1="147.7" y1="579.5" x2="147.7" y2="585.8"/><line x1="210.2" y1="579.5" x2="210.2" y2="587.4"/><line x1="273.3" y1="579.5" x2="273.3" y2="585.8"/><line x1="335.2" y1="579.5" x2="335.2" y2="587.4"/><line x1="399.2" y1="579.5" x2="399.2" y2="585.8"/><line x1="462.0" y1="579.5" x2="462.0" y2="587.4"/><line x1="525.8" y1="579.5" x2="525.8" y2="585.8"/><line x1="588.3" y1="579.5" x2="588.3" y2="587.4"/><line x1="651.1" y1="579.5" x2="651.1" y2="585.8"/><line x1="712.6" y1="579.5" x2="712.6" y2="587.4"/></g>
<text x="39.75" y="111.4" font-size="23.4" textLength="25.06" lengthAdjust="spacingAndGlyphs">15</text>
<text x="39.75" y="190.5" font-size="23.4" textLength="25.06" lengthAdjust="spacingAndGlyphs">10</text>
<text x="52.05" y="269.1" font-size="23.4" textLength="12.57" lengthAdjust="spacingAndGlyphs">5</text>
<text x="51.90" y="348.1" font-size="23.4" textLength="12.90" lengthAdjust="spacingAndGlyphs">0</text>
<text x="44.25" y="427.8" font-size="23.4" textLength="20.48" lengthAdjust="spacingAndGlyphs">-5</text>
<text x="31.85" y="507.4" font-size="23.4" textLength="32.79" lengthAdjust="spacingAndGlyphs">-10</text>
<text x="31.85" y="586.0" font-size="23.4" textLength="32.79" lengthAdjust="spacingAndGlyphs">-15</text>
<text x="64.80" y="614.2" font-size="23.4" textLength="37.79" lengthAdjust="spacingAndGlyphs">-0.6</text>
<text x="191.50" y="614.2" font-size="23.4" textLength="37.38" lengthAdjust="spacingAndGlyphs">-0.5</text>
<text x="316.10" y="614.2" font-size="23.4" textLength="36.97" lengthAdjust="spacingAndGlyphs">-0.4</text>
<text x="443.80" y="614.2" font-size="23.4" textLength="36.84" lengthAdjust="spacingAndGlyphs">-0.3</text>
<text x="569.20" y="614.2" font-size="23.4" textLength="37.14" lengthAdjust="spacingAndGlyphs">-0.2</text>
<text x="693.80" y="614.2" font-size="23.4" textLength="36.30" lengthAdjust="spacingAndGlyphs">-0.1</text>
<text transform="translate(23.5,412.85) rotate(-90)" font-size="29" textLength="157.65" lengthAdjust="spacingAndGlyphs">Current (µA)</text>
<g stroke="#000" stroke-width="2" fill="none"><line x1="152.0" y1="9.1" x2="152.0" y2="190.5"/><line x1="143.7" y1="189.5" x2="406.4" y2="189.5"/><line x1="143.7" y1="189.5" x2="151.7" y2="189.5"/><line x1="145.7" y1="174.5" x2="151.7" y2="174.5"/><line x1="143.7" y1="159.5" x2="151.7" y2="159.5"/><line x1="145.7" y1="144.3" x2="151.7" y2="144.3"/><line x1="143.7" y1="129.2" x2="151.7" y2="129.2"/><line x1="145.7" y1="114.4" x2="151.7" y2="114.4"/><line x1="143.7" y1="99.6" x2="151.7" y2="99.6"/><line x1="145.7" y1="84.9" x2="151.7" y2="84.9"/><line x1="143.7" y1="70.2" x2="151.7" y2="70.2"/><line x1="145.7" y1="55.4" x2="151.7" y2="55.4"/><line x1="143.7" y1="40.6" x2="151.7" y2="40.6"/><line x1="145.7" y1="25.3" x2="151.7" y2="25.3"/><line x1="143.7" y1="10.0" x2="151.7" y2="10.0"/><line x1="151.7" y1="189.5" x2="151.7" y2="194.9"/><line x1="179.9" y1="189.5" x2="179.9" y2="194.3"/><line x1="208.1" y1="189.5" x2="208.1" y2="194.9"/><line x1="236.3" y1="189.5" x2="236.3" y2="194.3"/><line x1="264.5" y1="189.5" x2="264.5" y2="194.9"/><line x1="292.7" y1="189.5" x2="292.7" y2="194.3"/><line x1="320.9" y1="189.5" x2="320.9" y2="194.9"/><line x1="349.1" y1="189.5" x2="349.1" y2="194.3"/><line x1="377.3" y1="189.5" x2="377.3" y2="194.9"/><line x1="405.5" y1="189.5" x2="405.5" y2="194.3"/></g>
<text x="134.6" y="196.4" font-size="19.3" text-anchor="end">0</text>
<text x="134.6" y="166.4" font-size="19.3" text-anchor="end">2</text>
<text x="134.6" y="136.1" font-size="19.3" text-anchor="end">4</text>
<text x="134.6" y="106.5" font-size="19.3" text-anchor="end">6</text>
<text x="134.6" y="77.1" font-size="19.3" text-anchor="end">8</text>
<text x="134.6" y="47.5" font-size="19.3" text-anchor="end">10</text>
<text x="134.6" y="16.9" font-size="19.3" text-anchor="end">12</text>
<text transform="translate(107.8,175.45) rotate(-90)" font-size="19" textLength="72.9" lengthAdjust="spacingAndGlyphs">Relative</text>
<text transform="translate(107.8,97.7) rotate(-90)" font-size="19">I</text>
<text transform="translate(111.2,91.2) rotate(-90)" font-size="12" textLength="6.99" lengthAdjust="spacingAndGlyphs" style="stroke-width:0.5px">p</text>
<text transform="translate(107.8,73.6) rotate(-90)" font-size="19" textLength="39.1" lengthAdjust="spacingAndGlyphs">(µA)</text>
<path d="M151.7,189.3 C152.3,187.3 165.3,143.2 166.5,140.3 C167.7,137.4 179.4,117.7 181.1,115.6 C182.8,113.5 205.4,90.9 208.8,88.7 C212.2,86.5 258.4,64.2 265.1,61.8 C271.8,59.4 372.8,29.1 377.3,27.7" fill="none" stroke="#000" stroke-width="2.3" stroke-linejoin="round"/>
<g stroke="#000" stroke-width="2" fill="none"><line x1="166.5" y1="137.7" x2="166.5" y2="143.3"/><line x1="160.5" y1="137.7" x2="172.5" y2="137.7"/><line x1="160.5" y1="143.3" x2="172.5" y2="143.3"/><line x1="181.1" y1="112.6" x2="181.1" y2="119.8"/><line x1="175.1" y1="112.6" x2="187.1" y2="112.6"/><line x1="175.1" y1="119.8" x2="187.1" y2="119.8"/><line x1="208.8" y1="83.3" x2="208.8" y2="94.1"/><line x1="202.8" y1="83.3" x2="214.8" y2="83.3"/><line x1="202.8" y1="94.1" x2="214.8" y2="94.1"/><line x1="265.1" y1="55.5" x2="265.1" y2="68.6"/><line x1="259.1" y1="55.5" x2="271.1" y2="55.5"/><line x1="259.1" y1="68.6" x2="271.1" y2="68.6"/><line x1="377.3" y1="18.5" x2="377.3" y2="35.6"/><line x1="371.3" y1="18.5" x2="383.3" y2="18.5"/><line x1="371.3" y1="35.6" x2="383.3" y2="35.6"/></g>
<path d="M166.5,137.1 l4.2,6 h-8.4 z"/>
<path d="M181.1,112.4 l4.2,6 h-8.4 z"/>
<path d="M208.8,85.5 l4.2,6 h-8.4 z"/>
<path d="M265.1,58.6 l4.2,6 h-8.4 z"/>
<circle cx="378.5" cy="28.3" r="2.4"/>
<path d="M151.7,185.5 l3.3,4.3 l-3.3,6.4 l-3.3,-6.4 z"/>
<text x="550.70" y="109.7" font-size="19.5" textLength="20.27" lengthAdjust="spacingAndGlyphs">(f)</text>
<text x="535.70" y="146.0" font-size="19.5" textLength="26.35" lengthAdjust="spacingAndGlyphs">(e)</text>
<text x="521.20" y="175.2" font-size="19.5" textLength="27.87" lengthAdjust="spacingAndGlyphs">(d)</text>
<text x="506.70" y="204.7" font-size="19.5" textLength="25.42" lengthAdjust="spacingAndGlyphs">(c)</text>
<text x="491.60" y="237.3" font-size="19.5" textLength="26.41" lengthAdjust="spacingAndGlyphs">(b)</text>
<text x="477.50" y="283.2" font-size="19.5" textLength="25.39" lengthAdjust="spacingAndGlyphs">(a)</text>
<text x="145.85" y="215.9" font-size="16.2" textLength="9.34" lengthAdjust="spacingAndGlyphs">0</text>
<text x="201.35" y="215.9" font-size="16.2" textLength="14.95" lengthAdjust="spacingAndGlyphs">10</text>
<text x="255.50" y="215.9" font-size="16.2" textLength="17.13" lengthAdjust="spacingAndGlyphs">20</text>
<text x="313.25" y="215.9" font-size="16.2" textLength="17.47" lengthAdjust="spacingAndGlyphs">30</text>
<text x="368.10" y="215.9" font-size="16.2" textLength="17.71" lengthAdjust="spacingAndGlyphs">40</text>
<text x="174.00" y="238.1" font-size="19.0" textLength="181.57" lengthAdjust="spacingAndGlyphs">[ssG-DNA] (ng/6 µL)</text>
<text x="315.20" y="654.2" font-size="29.0" textLength="159.97" lengthAdjust="spacingAndGlyphs">Potential (V)</text>
<text x="551.20" y="439.6" font-size="19.3" textLength="18.47" lengthAdjust="spacingAndGlyphs">f=</text>
<text x="572.10" y="439.6" font-size="19.3" textLength="18.91" lengthAdjust="spacingAndGlyphs">40</text>
<text x="597.25" y="439.6" font-size="19.3" textLength="44.47" lengthAdjust="spacingAndGlyphs">ng/6</text>
<text x="644.80" y="439.6" font-size="19.3" textLength="21.51" lengthAdjust="spacingAndGlyphs">µL</text>
<text x="680.85" y="439.6" font-size="19.3" textLength="88.35" lengthAdjust="spacingAndGlyphs">ssG-DNA</text>
<text x="550.70" y="462.6" font-size="19.3" textLength="21.91" lengthAdjust="spacingAndGlyphs">e=</text>
<text x="576.30" y="462.6" font-size="19.3" textLength="20.94" lengthAdjust="spacingAndGlyphs">20</text>
<text x="603.70" y="462.6" font-size="19.3" textLength="41.06" lengthAdjust="spacingAndGlyphs">ng/6</text>
<text x="649.40" y="462.6" font-size="19.3" textLength="21.97" lengthAdjust="spacingAndGlyphs">µL</text>
<text x="680.85" y="462.6" font-size="19.3" textLength="88.35" lengthAdjust="spacingAndGlyphs">ssG-DNA</text>
<text x="550.70" y="486.3" font-size="19.3" textLength="21.91" lengthAdjust="spacingAndGlyphs">d=</text>
<text x="577.05" y="486.3" font-size="19.3" textLength="22.62" lengthAdjust="spacingAndGlyphs">10</text>
<text x="603.70" y="486.3" font-size="19.3" textLength="41.06" lengthAdjust="spacingAndGlyphs">ng/6</text>
<text x="649.40" y="486.3" font-size="19.3" textLength="21.97" lengthAdjust="spacingAndGlyphs">µL</text>
<text x="680.85" y="486.3" font-size="19.3" textLength="88.35" lengthAdjust="spacingAndGlyphs">ssG-DNA</text>
<text x="551.00" y="509.6" font-size="19.3" textLength="22.41" lengthAdjust="spacingAndGlyphs">c=</text>
<text x="576.30" y="509.6" font-size="19.3" textLength="28.19" lengthAdjust="spacingAndGlyphs">5.0</text>
<text x="608.30" y="509.6" font-size="19.3" textLength="40.26" lengthAdjust="spacingAndGlyphs">ng/6</text>
<text x="653.50" y="509.6" font-size="19.3" textLength="21.66" lengthAdjust="spacingAndGlyphs">µL</text>
<text x="680.85" y="509.6" font-size="19.3" textLength="88.35" lengthAdjust="spacingAndGlyphs">ssG-DNA</text>
<text x="550.50" y="533.4" font-size="19.3" textLength="22.95" lengthAdjust="spacingAndGlyphs">b=</text>
<text x="576.30" y="533.4" font-size="19.3" textLength="27.24" lengthAdjust="spacingAndGlyphs">2.5</text>
<text x="609.90" y="533.4" font-size="19.3" textLength="40.26" lengthAdjust="spacingAndGlyphs">ng/6</text>
<text x="655.10" y="533.4" font-size="19.3" textLength="21.66" lengthAdjust="spacingAndGlyphs">µL</text>
<text x="680.85" y="533.4" font-size="19.3" textLength="88.35" lengthAdjust="spacingAndGlyphs">ssG-DNA</text>
<text x="551.00" y="556.2" font-size="19.3" textLength="22.41" lengthAdjust="spacingAndGlyphs">a=</text>
<text x="604.30" y="556.2" font-size="19.3" textLength="168.02" lengthAdjust="spacingAndGlyphs">Immobilized probe</text>
</svg>
</body></html>
